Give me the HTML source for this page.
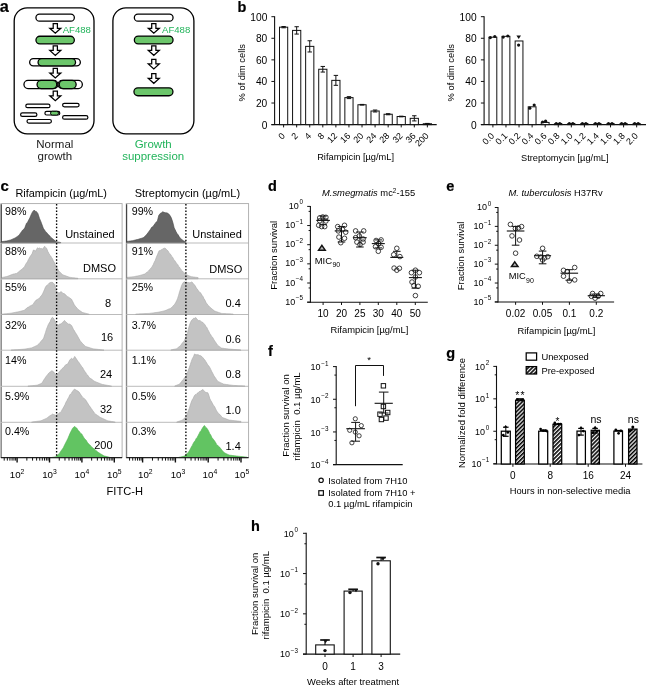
<!DOCTYPE html>
<html><head><meta charset="utf-8"><title>Figure</title>
<style>
html,body{margin:0;padding:0;background:#fff;width:646px;height:685px;overflow:hidden}
svg{display:block;will-change:transform}
text{font-family:"Liberation Sans",sans-serif}
</style></head><body>
<svg width="646" height="685" viewBox="0 0 646 685" font-family="Liberation Sans, sans-serif">
<rect x="0" y="0" width="646" height="685" fill="#fff"/>
<text x="-0.3" y="11.9" font-size="16.3" font-weight="bold" stroke="#000" stroke-width="0.2">a</text>
<rect x="14.2" y="7.8" width="79.8" height="126" rx="13" fill="none" stroke="#000" stroke-width="1.3"/>
<rect x="112.9" y="7.8" width="81" height="126" rx="13" fill="none" stroke="#000" stroke-width="1.3"/>
<rect x="35.95" y="14.15" width="38.4" height="7" rx="3.5" fill="#fff" stroke="#000" stroke-width="1.3"/>
<path d="M53.2,23.62 L57.4,23.62 L57.4,28.26 L60.8,28.26 L55.3,33.2 L49.8,28.26 L53.2,28.26 Z" fill="#fff" stroke="#000" stroke-width="1.25" stroke-linejoin="miter"/>
<text x="62.7" y="32.8" font-size="9.6" fill="#22b45b">AF488</text>
<rect x="35.95" y="36.25" width="38.4" height="7.7" rx="3.85" fill="#6cc66b" stroke="#000" stroke-width="1.3"/>
<path d="M53.2,45.83 L57.4,45.83 L57.4,50.46 L60.8,50.46 L55.3,55.4 L49.8,50.46 L53.2,50.46 Z" fill="#fff" stroke="#000" stroke-width="1.25" stroke-linejoin="miter"/>
<rect x="29.65" y="58.65" width="50.7" height="7.3" rx="3.65" fill="#fff" stroke="#000" stroke-width="1.3"/>
<rect x="38.05" y="58.65" width="37.5" height="7.3" rx="3.65" fill="#6cc66b" stroke="#000" stroke-width="1.3"/>
<path d="M53.2,68.42 L57.4,68.42 L57.4,73.06 L60.8,73.06 L55.3,78 L49.8,73.06 L53.2,73.06 Z" fill="#fff" stroke="#000" stroke-width="1.25" stroke-linejoin="miter"/>
<rect x="23.95" y="80.45" width="34" height="8.1" rx="4.05" fill="#fff" stroke="#000" stroke-width="1.3"/>
<rect x="37.05" y="80.45" width="19.7" height="8.1" rx="4.05" fill="#6cc66b" stroke="#000" stroke-width="1.3"/>
<rect x="58.05" y="80.45" width="24.3" height="8.1" rx="4.05" fill="#fff" stroke="#000" stroke-width="1.3"/>
<rect x="59.25" y="80.45" width="16.9" height="8.1" rx="4.05" fill="#6cc66b" stroke="#000" stroke-width="1.3"/>
<path d="M53.2,91.22 L57.4,91.22 L57.4,95.77 L60.8,95.77 L55.3,100.6 L49.8,95.77 L53.2,95.77 Z" fill="#fff" stroke="#000" stroke-width="1.25" stroke-linejoin="miter"/>
<rect x="25.8" y="104.1" width="24.2" height="3.6" rx="1.8" fill="#fff" stroke="#000" stroke-width="1.2"/>
<rect x="62.6" y="103.3" width="16.5" height="3.6" rx="1.8" fill="#fff" stroke="#000" stroke-width="1.2"/>
<rect x="20.6" y="112.9" width="16.3" height="3.5" rx="1.75" fill="#fff" stroke="#000" stroke-width="1.2"/>
<rect x="44.9" y="111.4" width="14.9" height="3.6" rx="1.8" fill="#fff" stroke="#000" stroke-width="1.2"/>
<rect x="50.5" y="111.3" width="8" height="3.8" rx="1.9" fill="#6cc66b" stroke="#000" stroke-width="1.0"/>
<rect x="62.6" y="115.6" width="25.3" height="3.6" rx="1.8" fill="#fff" stroke="#000" stroke-width="1.2"/>
<rect x="27" y="119.5" width="24.4" height="3.6" rx="1.8" fill="#fff" stroke="#000" stroke-width="1.2"/>
<text x="54.8" y="148.1" font-size="11.5" text-anchor="middle" fill="#1a1a1a">Normal</text>
<text x="54.8" y="160" font-size="11.5" text-anchor="middle" fill="#1a1a1a">growth</text>
<rect x="134.35" y="14.15" width="38.7" height="7" rx="3.5" fill="#fff" stroke="#000" stroke-width="1.3"/>
<path d="M151.7,23.62 L155.9,23.62 L155.9,28.26 L159.3,28.26 L153.8,33.2 L148.3,28.26 L151.7,28.26 Z" fill="#fff" stroke="#000" stroke-width="1.25" stroke-linejoin="miter"/>
<text x="162" y="32.8" font-size="9.6" fill="#22b45b">AF488</text>
<rect x="134.35" y="36.05" width="38.7" height="7.9" rx="3.95" fill="#6cc66b" stroke="#000" stroke-width="1.3"/>
<path d="M151.7,45.83 L155.9,45.83 L155.9,50.42 L159.3,50.42 L153.8,55.3 L148.3,50.42 L151.7,50.42 Z" fill="#fff" stroke="#000" stroke-width="1.25" stroke-linejoin="miter"/>
<path d="M151.7,59.33 L155.9,59.33 L155.9,63.96 L159.3,63.96 L153.8,68.9 L148.3,63.96 L151.7,63.96 Z" fill="#fff" stroke="#000" stroke-width="1.25" stroke-linejoin="miter"/>
<path d="M151.7,73.72 L155.9,73.72 L155.9,78.36 L159.3,78.36 L153.8,83.3 L148.3,78.36 L151.7,78.36 Z" fill="#fff" stroke="#000" stroke-width="1.25" stroke-linejoin="miter"/>
<rect x="133.95" y="87.85" width="39" height="7.9" rx="3.95" fill="#6cc66b" stroke="#000" stroke-width="1.3"/>
<text x="153.2" y="148.1" font-size="11.5" text-anchor="middle" fill="#22b45b">Growth</text>
<text x="153.2" y="160" font-size="11.5" text-anchor="middle" fill="#22b45b">suppression</text>
<text x="237.6" y="11.9" font-size="14.5" font-weight="bold" stroke="#000" stroke-width="0.2">b</text>
<line x1="274.6" y1="16.2" x2="274.6" y2="125.1" stroke="#111" stroke-width="1.1"/>
<line x1="271.4" y1="124.6" x2="274.6" y2="124.6" stroke="#111" stroke-width="1.0"/>
<text x="267.3" y="128.5" font-size="10.2" text-anchor="end">0</text>
<line x1="271.4" y1="103.02" x2="274.6" y2="103.02" stroke="#111" stroke-width="1.0"/>
<text x="267.3" y="106.92" font-size="10.2" text-anchor="end">20</text>
<line x1="271.4" y1="81.44" x2="274.6" y2="81.44" stroke="#111" stroke-width="1.0"/>
<text x="267.3" y="85.34" font-size="10.2" text-anchor="end">40</text>
<line x1="271.4" y1="59.86" x2="274.6" y2="59.86" stroke="#111" stroke-width="1.0"/>
<text x="267.3" y="63.76" font-size="10.2" text-anchor="end">60</text>
<line x1="271.4" y1="38.28" x2="274.6" y2="38.28" stroke="#111" stroke-width="1.0"/>
<text x="267.3" y="42.18" font-size="10.2" text-anchor="end">80</text>
<line x1="271.4" y1="16.7" x2="274.6" y2="16.7" stroke="#111" stroke-width="1.0"/>
<text x="267.3" y="20.6" font-size="10.2" text-anchor="end">100</text>
<line x1="271.4" y1="124.6" x2="436.7" y2="124.6" stroke="#111" stroke-width="1.1"/>
<rect x="279.5" y="27.17" width="8.2" height="97.43" rx="0" fill="#fff" stroke="#111" stroke-width="1.0"/>
<line x1="283.6" y1="124.6" x2="283.6" y2="127.4" stroke="#111" stroke-width="1.0"/>
<line x1="283.6" y1="26.52" x2="283.6" y2="27.81" stroke="#111" stroke-width="1.0"/>
<line x1="281.4" y1="26.52" x2="285.8" y2="26.52" stroke="#111" stroke-width="1.0"/>
<line x1="281.4" y1="27.81" x2="285.8" y2="27.81" stroke="#111" stroke-width="1.0"/>
<text x="285.6" y="136.4" font-size="9.0" text-anchor="end" transform="rotate(-45 285.6 136.4)">0</text>
<rect x="292.57" y="30.4" width="8.2" height="94.2" rx="0" fill="#fff" stroke="#111" stroke-width="1.0"/>
<line x1="296.67" y1="124.6" x2="296.67" y2="127.4" stroke="#111" stroke-width="1.0"/>
<line x1="296.67" y1="26.73" x2="296.67" y2="34.07" stroke="#111" stroke-width="1.0"/>
<line x1="294.47" y1="26.73" x2="298.87" y2="26.73" stroke="#111" stroke-width="1.0"/>
<line x1="294.47" y1="34.07" x2="298.87" y2="34.07" stroke="#111" stroke-width="1.0"/>
<text x="298.67" y="136.4" font-size="9.0" text-anchor="end" transform="rotate(-45 298.67 136.4)">2</text>
<rect x="305.64" y="46.37" width="8.2" height="78.23" rx="0" fill="#fff" stroke="#111" stroke-width="1.0"/>
<line x1="309.74" y1="124.6" x2="309.74" y2="127.4" stroke="#111" stroke-width="1.0"/>
<line x1="309.74" y1="40.76" x2="309.74" y2="51.98" stroke="#111" stroke-width="1.0"/>
<line x1="307.54" y1="40.76" x2="311.94" y2="40.76" stroke="#111" stroke-width="1.0"/>
<line x1="307.54" y1="51.98" x2="311.94" y2="51.98" stroke="#111" stroke-width="1.0"/>
<text x="311.74" y="136.4" font-size="9.0" text-anchor="end" transform="rotate(-45 311.74 136.4)">4</text>
<rect x="318.71" y="69.25" width="8.2" height="55.35" rx="0" fill="#fff" stroke="#111" stroke-width="1.0"/>
<line x1="322.81" y1="124.6" x2="322.81" y2="127.4" stroke="#111" stroke-width="1.0"/>
<line x1="322.81" y1="66.44" x2="322.81" y2="72.05" stroke="#111" stroke-width="1.0"/>
<line x1="320.61" y1="66.44" x2="325.01" y2="66.44" stroke="#111" stroke-width="1.0"/>
<line x1="320.61" y1="72.05" x2="325.01" y2="72.05" stroke="#111" stroke-width="1.0"/>
<text x="324.81" y="136.4" font-size="9.0" text-anchor="end" transform="rotate(-45 324.81 136.4)">8</text>
<rect x="331.78" y="80.36" width="8.2" height="44.24" rx="0" fill="#fff" stroke="#111" stroke-width="1.0"/>
<line x1="335.88" y1="124.6" x2="335.88" y2="127.4" stroke="#111" stroke-width="1.0"/>
<line x1="335.88" y1="75.4" x2="335.88" y2="85.32" stroke="#111" stroke-width="1.0"/>
<line x1="333.68" y1="75.4" x2="338.08" y2="75.4" stroke="#111" stroke-width="1.0"/>
<line x1="333.68" y1="85.32" x2="338.08" y2="85.32" stroke="#111" stroke-width="1.0"/>
<text x="337.88" y="136.4" font-size="9.0" text-anchor="end" transform="rotate(-45 337.88 136.4)">12</text>
<rect x="344.85" y="97.62" width="8.2" height="26.97" rx="0" fill="#fff" stroke="#111" stroke-width="1.0"/>
<line x1="348.95" y1="124.6" x2="348.95" y2="127.4" stroke="#111" stroke-width="1.0"/>
<line x1="348.95" y1="96.65" x2="348.95" y2="98.6" stroke="#111" stroke-width="1.0"/>
<line x1="346.75" y1="96.65" x2="351.15" y2="96.65" stroke="#111" stroke-width="1.0"/>
<line x1="346.75" y1="98.6" x2="351.15" y2="98.6" stroke="#111" stroke-width="1.0"/>
<text x="350.95" y="136.4" font-size="9.0" text-anchor="end" transform="rotate(-45 350.95 136.4)">16</text>
<rect x="357.92" y="104.75" width="8.2" height="19.85" rx="0" fill="#fff" stroke="#111" stroke-width="1.0"/>
<line x1="362.02" y1="124.6" x2="362.02" y2="127.4" stroke="#111" stroke-width="1.0"/>
<line x1="362.02" y1="104.42" x2="362.02" y2="105.07" stroke="#111" stroke-width="1.0"/>
<line x1="359.82" y1="104.42" x2="364.22" y2="104.42" stroke="#111" stroke-width="1.0"/>
<line x1="359.82" y1="105.07" x2="364.22" y2="105.07" stroke="#111" stroke-width="1.0"/>
<text x="364.02" y="136.4" font-size="9.0" text-anchor="end" transform="rotate(-45 364.02 136.4)">20</text>
<rect x="370.99" y="111" width="8.2" height="13.6" rx="0" fill="#fff" stroke="#111" stroke-width="1.0"/>
<line x1="375.09" y1="124.6" x2="375.09" y2="127.4" stroke="#111" stroke-width="1.0"/>
<line x1="375.09" y1="110.03" x2="375.09" y2="111.98" stroke="#111" stroke-width="1.0"/>
<line x1="372.89" y1="110.03" x2="377.29" y2="110.03" stroke="#111" stroke-width="1.0"/>
<line x1="372.89" y1="111.98" x2="377.29" y2="111.98" stroke="#111" stroke-width="1.0"/>
<text x="377.09" y="136.4" font-size="9.0" text-anchor="end" transform="rotate(-45 377.09 136.4)">24</text>
<rect x="384.06" y="114.24" width="8.2" height="10.36" rx="0" fill="#fff" stroke="#111" stroke-width="1.0"/>
<line x1="388.16" y1="124.6" x2="388.16" y2="127.4" stroke="#111" stroke-width="1.0"/>
<line x1="388.16" y1="113.7" x2="388.16" y2="114.78" stroke="#111" stroke-width="1.0"/>
<line x1="385.96" y1="113.7" x2="390.36" y2="113.7" stroke="#111" stroke-width="1.0"/>
<line x1="385.96" y1="114.78" x2="390.36" y2="114.78" stroke="#111" stroke-width="1.0"/>
<text x="390.16" y="136.4" font-size="9.0" text-anchor="end" transform="rotate(-45 390.16 136.4)">28</text>
<rect x="397.13" y="116.51" width="8.2" height="8.09" rx="0" fill="#fff" stroke="#111" stroke-width="1.0"/>
<line x1="401.23" y1="124.6" x2="401.23" y2="127.4" stroke="#111" stroke-width="1.0"/>
<line x1="401.23" y1="116.18" x2="401.23" y2="116.83" stroke="#111" stroke-width="1.0"/>
<line x1="399.03" y1="116.18" x2="403.43" y2="116.18" stroke="#111" stroke-width="1.0"/>
<line x1="399.03" y1="116.83" x2="403.43" y2="116.83" stroke="#111" stroke-width="1.0"/>
<text x="403.23" y="136.4" font-size="9.0" text-anchor="end" transform="rotate(-45 403.23 136.4)">32</text>
<rect x="410.2" y="118.34" width="8.2" height="6.26" rx="0" fill="#fff" stroke="#111" stroke-width="1.0"/>
<line x1="414.3" y1="124.6" x2="414.3" y2="127.4" stroke="#111" stroke-width="1.0"/>
<line x1="414.3" y1="115.75" x2="414.3" y2="120.93" stroke="#111" stroke-width="1.0"/>
<line x1="412.1" y1="115.75" x2="416.5" y2="115.75" stroke="#111" stroke-width="1.0"/>
<line x1="412.1" y1="120.93" x2="416.5" y2="120.93" stroke="#111" stroke-width="1.0"/>
<text x="416.3" y="136.4" font-size="9.0" text-anchor="end" transform="rotate(-45 416.3 136.4)">36</text>
<rect x="423.27" y="123.74" width="8.2" height="0.86" rx="0" fill="#fff" stroke="#111" stroke-width="1.0"/>
<line x1="427.37" y1="124.6" x2="427.37" y2="127.4" stroke="#111" stroke-width="1.0"/>
<line x1="427.37" y1="123.41" x2="427.37" y2="124.06" stroke="#111" stroke-width="1.0"/>
<line x1="425.17" y1="123.41" x2="429.57" y2="123.41" stroke="#111" stroke-width="1.0"/>
<line x1="425.17" y1="124.06" x2="429.57" y2="124.06" stroke="#111" stroke-width="1.0"/>
<text x="429.37" y="136.4" font-size="9.0" text-anchor="end" transform="rotate(-45 429.37 136.4)">200</text>
<text x="355.6" y="159.8" font-size="9.25" text-anchor="middle">Rifampicin [µg/mL]</text>
<text x="244.6" y="72.7" font-size="9.3" text-anchor="middle" transform="rotate(-90 244.6 72.7)">% of dim cells</text>
<line x1="484.1" y1="16.2" x2="484.1" y2="125.1" stroke="#111" stroke-width="1.1"/>
<line x1="480.9" y1="124.6" x2="484.1" y2="124.6" stroke="#111" stroke-width="1.0"/>
<text x="476.6" y="128.5" font-size="10.2" text-anchor="end">0</text>
<line x1="480.9" y1="103.02" x2="484.1" y2="103.02" stroke="#111" stroke-width="1.0"/>
<text x="476.6" y="106.92" font-size="10.2" text-anchor="end">20</text>
<line x1="480.9" y1="81.44" x2="484.1" y2="81.44" stroke="#111" stroke-width="1.0"/>
<text x="476.6" y="85.34" font-size="10.2" text-anchor="end">40</text>
<line x1="480.9" y1="59.86" x2="484.1" y2="59.86" stroke="#111" stroke-width="1.0"/>
<text x="476.6" y="63.76" font-size="10.2" text-anchor="end">60</text>
<line x1="480.9" y1="38.28" x2="484.1" y2="38.28" stroke="#111" stroke-width="1.0"/>
<text x="476.6" y="42.18" font-size="10.2" text-anchor="end">80</text>
<line x1="480.9" y1="16.7" x2="484.1" y2="16.7" stroke="#111" stroke-width="1.0"/>
<text x="476.6" y="20.6" font-size="10.2" text-anchor="end">100</text>
<line x1="480.9" y1="124.6" x2="646" y2="124.6" stroke="#111" stroke-width="1.1"/>
<rect x="489" y="37.2" width="7.8" height="87.4" rx="0" fill="#fff" stroke="#111" stroke-width="1.0"/>
<line x1="492.9" y1="124.6" x2="492.9" y2="127.4" stroke="#111" stroke-width="1.0"/>
<text x="494.9" y="136.4" font-size="9.0" text-anchor="end" transform="rotate(-45 494.9 136.4)">0.0</text>
<rect x="502.07" y="36.34" width="7.8" height="88.26" rx="0" fill="#fff" stroke="#111" stroke-width="1.0"/>
<line x1="505.97" y1="124.6" x2="505.97" y2="127.4" stroke="#111" stroke-width="1.0"/>
<text x="507.97" y="136.4" font-size="9.0" text-anchor="end" transform="rotate(-45 507.97 136.4)">0.1</text>
<rect x="515.14" y="40.98" width="7.8" height="83.62" rx="0" fill="#fff" stroke="#111" stroke-width="1.0"/>
<line x1="519.04" y1="124.6" x2="519.04" y2="127.4" stroke="#111" stroke-width="1.0"/>
<text x="521.04" y="136.4" font-size="9.0" text-anchor="end" transform="rotate(-45 521.04 136.4)">0.2</text>
<rect x="528.21" y="106.8" width="7.8" height="17.8" rx="0" fill="#fff" stroke="#111" stroke-width="1.0"/>
<line x1="532.11" y1="124.6" x2="532.11" y2="127.4" stroke="#111" stroke-width="1.0"/>
<text x="534.11" y="136.4" font-size="9.0" text-anchor="end" transform="rotate(-45 534.11 136.4)">0.4</text>
<rect x="541.28" y="122.44" width="7.8" height="2.16" rx="0" fill="#fff" stroke="#111" stroke-width="1.0"/>
<line x1="545.18" y1="124.6" x2="545.18" y2="127.4" stroke="#111" stroke-width="1.0"/>
<text x="547.18" y="136.4" font-size="9.0" text-anchor="end" transform="rotate(-45 547.18 136.4)">0.6</text>
<rect x="554.35" y="124.17" width="7.8" height="0.43" rx="0" fill="#fff" stroke="#111" stroke-width="1.0"/>
<line x1="558.25" y1="124.6" x2="558.25" y2="127.4" stroke="#111" stroke-width="1.0"/>
<text x="560.25" y="136.4" font-size="9.0" text-anchor="end" transform="rotate(-45 560.25 136.4)">0.8</text>
<rect x="567.42" y="124.17" width="7.8" height="0.43" rx="0" fill="#fff" stroke="#111" stroke-width="1.0"/>
<line x1="571.32" y1="124.6" x2="571.32" y2="127.4" stroke="#111" stroke-width="1.0"/>
<text x="573.32" y="136.4" font-size="9.0" text-anchor="end" transform="rotate(-45 573.32 136.4)">1.0</text>
<rect x="580.49" y="124.17" width="7.8" height="0.43" rx="0" fill="#fff" stroke="#111" stroke-width="1.0"/>
<line x1="584.39" y1="124.6" x2="584.39" y2="127.4" stroke="#111" stroke-width="1.0"/>
<text x="586.39" y="136.4" font-size="9.0" text-anchor="end" transform="rotate(-45 586.39 136.4)">1.2</text>
<rect x="593.56" y="124.17" width="7.8" height="0.43" rx="0" fill="#fff" stroke="#111" stroke-width="1.0"/>
<line x1="597.46" y1="124.6" x2="597.46" y2="127.4" stroke="#111" stroke-width="1.0"/>
<text x="599.46" y="136.4" font-size="9.0" text-anchor="end" transform="rotate(-45 599.46 136.4)">1.4</text>
<rect x="606.63" y="124.17" width="7.8" height="0.43" rx="0" fill="#fff" stroke="#111" stroke-width="1.0"/>
<line x1="610.53" y1="124.6" x2="610.53" y2="127.4" stroke="#111" stroke-width="1.0"/>
<text x="612.53" y="136.4" font-size="9.0" text-anchor="end" transform="rotate(-45 612.53 136.4)">1.6</text>
<rect x="619.7" y="124.17" width="7.8" height="0.43" rx="0" fill="#fff" stroke="#111" stroke-width="1.0"/>
<line x1="623.6" y1="124.6" x2="623.6" y2="127.4" stroke="#111" stroke-width="1.0"/>
<text x="625.6" y="136.4" font-size="9.0" text-anchor="end" transform="rotate(-45 625.6 136.4)">1.8</text>
<rect x="632.77" y="124.17" width="7.8" height="0.43" rx="0" fill="#fff" stroke="#111" stroke-width="1.0"/>
<line x1="636.67" y1="124.6" x2="636.67" y2="127.4" stroke="#111" stroke-width="1.0"/>
<text x="638.67" y="136.4" font-size="9.0" text-anchor="end" transform="rotate(-45 638.67 136.4)">2.0</text>
<text x="564.8" y="161" font-size="9.25" text-anchor="middle">Streptomycin [µg/mL]</text>
<text x="454.4" y="72.7" font-size="9.3" text-anchor="middle" transform="rotate(-90 454.4 72.7)">% of dim cells</text>
<circle cx="490.3" cy="37.6" r="1.6" fill="#111"/>
<circle cx="494.8" cy="36.5" r="1.6" fill="#111"/>
<circle cx="503.2" cy="37.1" r="1.6" fill="#111"/>
<circle cx="507.8" cy="36" r="1.6" fill="#111"/>
<circle cx="518.6" cy="45.1" r="1.6" fill="#111"/>
<circle cx="529.8" cy="108.2" r="1.6" fill="#111"/>
<circle cx="534.2" cy="105" r="1.6" fill="#111"/>
<circle cx="542.6" cy="122" r="1.6" fill="#111"/>
<circle cx="545.6" cy="121.2" r="1.6" fill="#111"/>
<path d="M516.4,35.4 L521,35.4 L518.7,39 Z" fill="#111"/>
<circle cx="556.25" cy="123.6" r="1.5" fill="#111"/>
<circle cx="559.75" cy="123.4" r="1.5" fill="#111"/>
<line x1="554.45" y1="123.6" x2="562.05" y2="123.6" stroke="#111" stroke-width="1.3"/>
<circle cx="569.32" cy="123.6" r="1.5" fill="#111"/>
<circle cx="572.82" cy="123.4" r="1.5" fill="#111"/>
<line x1="567.52" y1="123.6" x2="575.12" y2="123.6" stroke="#111" stroke-width="1.3"/>
<circle cx="582.39" cy="123.6" r="1.5" fill="#111"/>
<circle cx="585.89" cy="123.4" r="1.5" fill="#111"/>
<line x1="580.59" y1="123.6" x2="588.19" y2="123.6" stroke="#111" stroke-width="1.3"/>
<circle cx="595.46" cy="123.6" r="1.5" fill="#111"/>
<circle cx="598.96" cy="123.4" r="1.5" fill="#111"/>
<line x1="593.66" y1="123.6" x2="601.26" y2="123.6" stroke="#111" stroke-width="1.3"/>
<circle cx="608.53" cy="123.6" r="1.5" fill="#111"/>
<circle cx="612.03" cy="123.4" r="1.5" fill="#111"/>
<line x1="606.73" y1="123.6" x2="614.33" y2="123.6" stroke="#111" stroke-width="1.3"/>
<circle cx="621.6" cy="123.6" r="1.5" fill="#111"/>
<circle cx="625.1" cy="123.4" r="1.5" fill="#111"/>
<line x1="619.8" y1="123.6" x2="627.4" y2="123.6" stroke="#111" stroke-width="1.3"/>
<circle cx="634.67" cy="123.6" r="1.5" fill="#111"/>
<circle cx="638.17" cy="123.4" r="1.5" fill="#111"/>
<line x1="632.87" y1="123.6" x2="640.47" y2="123.6" stroke="#111" stroke-width="1.3"/>
<text x="0.6" y="191.2" font-size="15" font-weight="bold" stroke="#000" stroke-width="0.2">c</text>
<text x="61.2" y="196.7" font-size="10.9" text-anchor="middle">Rifampicin (µg/mL)</text>
<text x="187.4" y="196.7" font-size="11" text-anchor="middle">Streptomycin (µg/mL)</text>
<rect x="0.9" y="203.6" width="121.2" height="254" rx="0" fill="#fff" stroke="#aaa" stroke-width="0.9"/>
<path d="M1.1,243 L1.1,241.7 L2,241.58 L2.9,241.47 L3.8,241.35 L4.7,241.23 L5.6,241.12 L6.5,241 L7.58,240.72 L8.65,240.45 L9.73,240.18 L10.8,239.9 L11.9,239.4 L13,238.91 L14.1,238.46 L15.2,237.9 L16.27,237.2 L17.33,236.43 L18.4,235.8 L19.5,234.47 L20.6,232.94 L21.7,231.4 L22.77,229.91 L23.83,229.28 L24.9,227.6 L26.5,223.3 L27.6,222.18 L28.7,220 L29.8,217.94 L30.9,215.2 L32.5,211.9 L34.1,210.1 L35.2,211.19 L36.3,211.4 L37.9,213.5 L39.5,218.4 L40.6,220.89 L41.7,223.8 L43.3,228.2 L44.4,229.85 L45.5,231.39 L46.6,232.5 L47.67,233.83 L48.75,234.94 L49.83,236.03 L50.9,237.4 L52,238.29 L53.1,239.21 L54.2,240.1 L55.25,240.9 L56.3,241.7 L57.4,241.9 L58.5,242.1 L59.6,242.3 L60.7,242.5 L60.7,243 Z" fill="#666" stroke="#444" stroke-width="0.6" stroke-linejoin="round"/>
<line x1="1.3" y1="204.2" x2="1.3" y2="243" stroke="#444" stroke-width="1.2"/>
<line x1="0.9" y1="243" x2="122.1" y2="243" stroke="#aaa" stroke-width="0.8"/>
<text x="5" y="215" font-size="10.7">98%</text>
<text x="114.7" y="237.8" font-size="11" text-anchor="end">Unstained</text>
<path d="M1.4,278.8 L1.4,277.6 L2.33,277.42 L3.27,277.23 L4.2,277.05 L5.13,276.87 L6.07,276.68 L7,276.5 L8.03,276.1 L9.07,275.7 L10.1,275.31 L11.13,274.87 L12.17,274.53 L13.2,274.1 L14.37,273.9 L15.53,273.56 L16.7,273.4 L17.75,272.56 L18.8,271.68 L19.85,270.81 L20.9,270 L22.07,269.37 L23.23,267.85 L24.4,267.2 L25.45,264.63 L26.5,263 L27.43,261.85 L28.37,259.63 L29.3,258.1 L30.65,255.67 L32,253.9 L33.4,250 L34.45,250.36 L35.5,251.1 L36.55,249.25 L37.6,247.7 L38.53,248.5 L39.47,247.98 L40.4,248.6 L41.45,248.54 L42.5,249.1 L43.55,247.79 L44.6,246.3 L45.65,247.4 L46.7,248.4 L47.75,251.3 L48.8,253.2 L49.7,254.97 L50.6,255.84 L51.5,257.4 L52.43,258.71 L53.37,261.04 L54.3,262.3 L55.35,264.91 L56.4,266.5 L57.45,268.24 L58.5,270.6 L59.55,271.74 L60.6,272.8 L61.65,273.78 L62.7,274.8 L63.7,275.14 L64.7,275.52 L65.7,275.87 L66.7,276.23 L67.7,276.59 L68.7,276.94 L69.7,277.3 L70.62,277.41 L71.54,277.52 L72.47,277.63 L73.39,277.74 L74.31,277.86 L75.23,277.97 L76.16,278.08 L77.08,278.19 L78,278.3 L78,278.8 Z" fill="#c3c3c3" stroke="#a8a8a8" stroke-width="0.6" stroke-linejoin="round"/>
<line x1="1.3" y1="243.6" x2="1.3" y2="278.8" stroke="#888" stroke-width="1.2"/>
<line x1="0.9" y1="278.8" x2="122.1" y2="278.8" stroke="#aaa" stroke-width="0.8"/>
<text x="5" y="254.5" font-size="10.7">88%</text>
<text x="116" y="272.2" font-size="11" text-anchor="end">DMSO</text>
<path d="M1.9,314.5 L1.9,314.1 L2.82,314.01 L3.74,313.92 L4.66,313.83 L5.58,313.74 L6.5,313.65 L7.42,313.56 L8.34,313.47 L9.26,313.38 L10.18,313.29 L11.1,313.2 L12.04,313.01 L12.97,312.82 L13.91,312.64 L14.85,312.45 L15.79,312.26 L16.73,312.07 L17.66,311.89 L18.6,311.7 L19.52,311.48 L20.43,311.27 L21.35,311.04 L22.27,310.82 L23.18,310.58 L24.1,310.4 L25.05,309.61 L26,308.82 L26.95,308.04 L27.9,307.2 L28.82,306.91 L29.74,306.15 L30.66,305.68 L31.58,305.26 L32.5,304.8 L33.42,303.95 L34.35,302.29 L35.28,301.08 L36.2,300.1 L37.12,299.47 L38.05,299.21 L38.98,298.21 L39.9,297.9 L40.83,296.11 L41.77,295.29 L42.7,293.6 L43.63,291.52 L44.57,289.35 L45.5,287.1 L46.43,285.67 L47.37,285.02 L48.3,284.4 L49.25,283.01 L50.2,282.5 L51.55,282.35 L52.9,282.5 L53.85,283.9 L54.8,284.4 L55.75,288.64 L56.7,291.8 L58.5,292.7 L59.43,292.78 L60.37,291.96 L61.3,291.8 L62.23,292.47 L63.17,293.44 L64.1,293.6 L65.03,294.26 L65.97,295.16 L66.9,296.1 L67.83,296.94 L68.77,297.13 L69.7,297.9 L71.5,299.2 L72.43,301.04 L73.37,302.83 L74.3,304.8 L75.22,306.11 L76.15,307.11 L77.08,308.13 L78,309.4 L78.94,309.98 L79.88,310.69 L80.82,311.31 L81.76,311.96 L82.7,312.6 L83.63,312.81 L84.56,313.03 L85.49,313.24 L86.41,313.46 L87.34,313.67 L88.27,313.89 L89.2,314.1 L89.2,314.5 Z" fill="#c3c3c3" stroke="#a8a8a8" stroke-width="0.6" stroke-linejoin="round"/>
<line x1="1.3" y1="279.4" x2="1.3" y2="314.5" stroke="#888" stroke-width="1.2"/>
<line x1="0.9" y1="314.5" x2="122.1" y2="314.5" stroke="#aaa" stroke-width="0.8"/>
<text x="5" y="291" font-size="10.7">55%</text>
<text x="111.2" y="306.8" font-size="11" text-anchor="end">8</text>
<path d="M11.1,350.2 L11.1,350.1 L12.03,350.04 L12.96,349.97 L13.89,349.91 L14.81,349.84 L15.74,349.78 L16.67,349.71 L17.6,349.65 L18.53,349.59 L19.46,349.52 L20.39,349.46 L21.31,349.39 L22.24,349.33 L23.17,349.26 L24.1,349.2 L25.04,349.04 L25.98,348.88 L26.91,348.71 L27.85,348.55 L28.79,348.39 L29.73,348.22 L30.66,348.06 L31.6,347.9 L32.53,347.48 L33.47,347.06 L34.4,346.64 L35.33,346.21 L36.27,345.78 L37.2,345.4 L38.12,344.54 L39.05,343.69 L39.98,342.44 L40.9,341.7 L41.83,340.26 L42.77,339.54 L43.7,338 L45.5,332.4 L46.45,329.22 L47.4,326.9 L48.3,324.54 L49.2,323.1 L50.15,321.54 L51.1,319.1 L52.4,317.2 L53.3,318.06 L54.2,319.4 L55.15,321.22 L56.1,324.1 L57.3,324.63 L58.5,325 L59.45,324.21 L60.4,324.1 L61.3,323.47 L62.2,323.1 L63.35,321.56 L64.5,320.4 L65.7,321.95 L66.9,322.8 L67.83,323.72 L68.77,324.17 L69.7,324.1 L71.5,325.4 L72.43,327.13 L73.37,329.34 L74.3,330.6 L75.23,332.34 L76.17,333.72 L77.1,335.2 L78.02,336.97 L78.95,338.58 L79.88,340.35 L80.8,341.7 L81.74,342.54 L82.68,343.72 L83.62,344.61 L84.56,345.48 L85.5,346.4 L86.42,346.7 L87.35,347 L88.28,347.3 L89.2,347.6 L90.12,347.9 L91.05,348.2 L91.98,348.5 L92.9,348.8 L93.83,348.91 L94.75,349.02 L95.68,349.12 L96.6,349.23 L97.53,349.34 L98.45,349.45 L99.38,349.56 L100.3,349.67 L101.22,349.78 L102.15,349.88 L103.08,349.99 L104,350.1 L104,350.2 Z" fill="#c3c3c3" stroke="#a8a8a8" stroke-width="0.6" stroke-linejoin="round"/>
<line x1="1.3" y1="315.1" x2="1.3" y2="350.2" stroke="#888" stroke-width="1.2"/>
<line x1="0.9" y1="350.2" x2="122.1" y2="350.2" stroke="#aaa" stroke-width="0.8"/>
<text x="5" y="328.6" font-size="10.7">32%</text>
<text x="113.2" y="341.2" font-size="11" text-anchor="end">16</text>
<path d="M27.9,386.3 L27.9,386.1 L28.83,386.01 L29.76,385.92 L30.69,385.83 L31.62,385.74 L32.55,385.65 L33.48,385.56 L34.41,385.47 L35.34,385.38 L36.27,385.29 L37.2,385.2 L38.12,384.82 L39.04,384.44 L39.96,384.06 L40.88,383.68 L41.8,383.3 L42.73,381.73 L43.67,380.12 L44.6,378.7 L45.53,377.33 L46.47,375.93 L47.4,374.9 L48.6,373.27 L49.8,372.2 L50.7,371.85 L51.6,370.7 L52.75,371.29 L53.9,372.2 L55,373.67 L56.1,375.5 L57.3,374.22 L58.5,373.1 L59.43,371.45 L60.37,371.07 L61.3,369.4 L62.22,368.46 L63.15,367.68 L64.08,367.09 L65,365.6 L65.93,364.57 L66.87,364.48 L67.8,363.8 L68.75,361.93 L69.7,360.1 L71.5,358.2 L73,359.5 L74.7,356.4 L76.5,359.1 L77.75,361.1 L79,362.5 L79.9,363.98 L80.8,365.17 L81.7,366.6 L82.65,367.6 L83.6,369.44 L84.55,371.12 L85.5,372.2 L86.42,373.9 L87.35,374.77 L88.28,376.11 L89.2,377.4 L90.12,378.21 L91.03,378.71 L91.95,379.37 L92.87,380.14 L93.78,380.82 L94.7,381.4 L95.64,381.81 L96.58,382.2 L97.51,382.5 L98.45,382.9 L99.39,383.27 L100.33,383.65 L101.26,384.02 L102.2,384.4 L103.13,384.57 L104.06,384.74 L104.99,384.91 L105.92,385.08 L106.85,385.25 L107.78,385.42 L108.71,385.59 L109.64,385.76 L110.57,385.93 L111.5,386.1 L111.5,386.3 Z" fill="#c3c3c3" stroke="#a8a8a8" stroke-width="0.6" stroke-linejoin="round"/>
<line x1="1.3" y1="350.8" x2="1.3" y2="386.3" stroke="#888" stroke-width="1.2"/>
<line x1="0.9" y1="386.3" x2="122.1" y2="386.3" stroke="#aaa" stroke-width="0.8"/>
<text x="5" y="363.7" font-size="10.7">14%</text>
<text x="112.2" y="377.8" font-size="11" text-anchor="end">24</text>
<path d="M31.6,422.3 L31.6,422.1 L32.53,421.97 L33.46,421.84 L34.39,421.71 L35.32,421.58 L36.25,421.45 L37.18,421.32 L38.11,421.19 L39.04,421.06 L39.97,420.93 L40.9,420.8 L41.82,420.4 L42.73,420 L43.65,419.6 L44.57,419.2 L45.48,418.78 L46.4,418.4 L47.35,417.7 L48.3,416.93 L49.25,416.23 L50.2,415.6 L51.4,414.9 L52.6,414.1 L53.63,414.59 L54.67,414.84 L55.7,415.2 L56.63,414.9 L57.57,414.24 L58.5,413.7 L59.43,412.87 L60.37,412.38 L61.3,411.5 L62.23,409.51 L63.17,408.04 L64.1,406.3 L65.03,404.58 L65.97,402.15 L66.9,400.7 L67.83,398.76 L68.77,397.34 L69.7,395.1 L70.63,393.95 L71.57,393.1 L72.5,391.4 L74.3,389.2 L75.23,389.4 L76.17,390.22 L77.1,390.5 L78.03,391.37 L78.97,391.87 L79.9,393.3 L81.7,396.1 L82.63,397.17 L83.57,397.95 L84.5,398.9 L85.43,399.62 L86.37,400.97 L87.3,402.6 L88.22,404.03 L89.15,405.83 L90.08,406.5 L91,408.2 L91.92,409.35 L92.85,410.79 L93.78,412.02 L94.7,413.4 L95.63,414.24 L96.57,414.72 L97.5,415.43 L98.43,415.98 L99.37,416.72 L100.3,417.4 L101.22,417.85 L102.15,418.23 L103.08,418.68 L104,419.1 L104.92,419.52 L105.85,419.95 L106.78,420.38 L107.7,420.8 L108.64,420.96 L109.58,421.12 L110.51,421.29 L111.45,421.45 L112.39,421.61 L113.33,421.78 L114.26,421.94 L115.2,422.1 L115.2,422.3 Z" fill="#c3c3c3" stroke="#a8a8a8" stroke-width="0.6" stroke-linejoin="round"/>
<line x1="1.3" y1="386.9" x2="1.3" y2="422.3" stroke="#888" stroke-width="1.2"/>
<line x1="0.9" y1="422.3" x2="122.1" y2="422.3" stroke="#aaa" stroke-width="0.8"/>
<text x="5" y="400.4" font-size="10.7">5.9%</text>
<text x="112.2" y="413.2" font-size="11" text-anchor="end">32</text>
<path d="M50.2,457.6 L50.2,457.7 L51.12,457.55 L52.03,457.4 L52.95,457.25 L53.87,457.1 L54.78,456.95 L55.7,456.8 L56.62,455.95 L57.55,455.1 L58.48,454.24 L59.4,453.4 L60.35,451.99 L61.3,450.51 L62.25,449.2 L63.2,447.9 L64.12,445.99 L65.05,444.12 L65.98,442.23 L66.9,440.4 L68,438.23 L69.1,435.55 L70.2,433 L71.35,430.72 L72.5,428.4 L74.3,426.5 L75.25,426.99 L76.2,427.8 L77.13,428.44 L78.07,430.51 L79,431.1 L79.9,432.28 L80.8,433.5 L81.7,433.9 L82.63,435.47 L83.57,437.19 L84.5,438.6 L85.42,439.46 L86.35,440.39 L87.28,442.35 L88.2,443.2 L89.14,444.61 L90.08,445.11 L91.02,446.39 L91.96,447.29 L92.9,447.9 L93.83,448.81 L94.77,449.25 L95.7,450.39 L96.63,450.94 L97.57,451.86 L98.5,452.5 L99.42,453.11 L100.33,453.67 L101.25,454.22 L102.17,454.77 L103.08,455.33 L104,455.9 L104.93,456.12 L105.87,456.33 L106.8,456.55 L107.73,456.77 L108.67,456.98 L109.6,457.2 L109.6,457.6 Z" fill="#62c462" stroke="#4fb04f" stroke-width="0.6" stroke-linejoin="round"/>
<line x1="1.3" y1="422.9" x2="1.3" y2="457.6" stroke="#888" stroke-width="1.2"/>
<text x="5" y="435.1" font-size="10.7">0.4%</text>
<text x="112.6" y="449.4" font-size="11" text-anchor="end">200</text>
<line x1="56.6" y1="204.1" x2="56.6" y2="457.6" stroke="#000" stroke-width="1.35" stroke-dasharray="1.3 1.95"/>
<line x1="0.9" y1="457.6" x2="122.1" y2="457.6" stroke="#222" stroke-width="1.3"/>
<rect x="126.2" y="203.6" width="122.4" height="254" rx="0" fill="#fff" stroke="#aaa" stroke-width="0.9"/>
<path d="M126.5,243 L126.5,241.5 L127.48,241.37 L128.47,241.23 L129.45,241.1 L130.43,240.97 L131.42,240.83 L132.4,240.7 L133.32,240.48 L134.23,240.27 L135.15,240.05 L136.07,239.84 L136.98,239.6 L137.9,239.4 L138.83,239.11 L139.77,238.8 L140.7,238.48 L141.63,238.24 L142.57,237.88 L143.5,237.6 L144.67,236.41 L145.83,235.4 L147,234.1 L148.17,232.49 L149.33,230.91 L150.5,229.3 L151.67,227.35 L152.83,226.64 L154,225.1 L155.13,223.48 L156.27,221.94 L157.4,220.9 L158.8,215.3 L160.5,213.2 L161.6,212.65 L162.7,211.8 L163.9,212.19 L165.1,212.8 L166.03,212.65 L166.97,212.98 L167.9,213.2 L169.3,214.6 L170.35,216.07 L171.4,218.1 L172.8,222.3 L174.2,227.9 L175.13,229.65 L176.07,231.75 L177,233.4 L178.13,234.82 L179.27,236.78 L180.4,238.3 L181.57,239.24 L182.73,240.17 L183.9,241.1 L184.95,241.45 L186,241.8 L186,243 Z" fill="#666" stroke="#444" stroke-width="0.6" stroke-linejoin="round"/>
<line x1="126.6" y1="204.2" x2="126.6" y2="243" stroke="#444" stroke-width="1.2"/>
<line x1="126.2" y1="243" x2="248.6" y2="243" stroke="#aaa" stroke-width="0.8"/>
<text x="131.7" y="215" font-size="10.7">99%</text>
<text x="241.8" y="237.8" font-size="11" text-anchor="end">Unstained</text>
<path d="M126.9,278.8 L126.9,277.4 L127.89,277.3 L128.87,277.2 L129.86,277.1 L130.84,277 L131.83,276.9 L132.81,276.8 L133.8,276.7 L134.77,276.5 L135.73,276.3 L136.7,276.1 L137.67,275.9 L138.63,275.7 L139.6,275.5 L140.58,275.24 L141.56,274.93 L142.54,274.65 L143.52,274.35 L144.5,274.1 L145.47,273.42 L146.45,272.54 L147.43,271.92 L148.4,271.2 L149.38,269.8 L150.35,268.98 L151.33,267.64 L152.3,266.3 L153.27,264.61 L154.23,262.25 L155.2,260.5 L156.35,257.37 L157.5,254.6 L159.1,250.7 L160.07,250.74 L161.03,249.91 L162,249.4 L163,248.9 L164,248.2 L164.95,248.22 L165.9,248.8 L166.9,250.17 L167.9,250.7 L168.87,252.41 L169.83,253.72 L170.8,254.6 L171.78,256.49 L172.75,257.38 L173.72,259.43 L174.7,260.5 L175.67,262 L176.65,263.41 L177.62,264.38 L178.6,266.3 L179.57,267.25 L180.55,268.89 L181.53,270.23 L182.5,271.2 L183.47,272.17 L184.45,273.02 L185.43,273.86 L186.4,274.7 L187.38,275.08 L188.36,275.5 L189.34,275.9 L190.32,276.3 L191.3,276.7 L192.27,276.83 L193.24,276.96 L194.21,277.09 L195.19,277.21 L196.16,277.34 L197.13,277.47 L198.1,277.6 L198.1,278.8 Z" fill="#c3c3c3" stroke="#a8a8a8" stroke-width="0.6" stroke-linejoin="round"/>
<line x1="126.6" y1="243.6" x2="126.6" y2="278.8" stroke="#888" stroke-width="1.2"/>
<line x1="126.2" y1="278.8" x2="248.6" y2="278.8" stroke="#aaa" stroke-width="0.8"/>
<text x="131.7" y="254.5" font-size="10.7">91%</text>
<text x="242.2" y="272.8" font-size="11" text-anchor="end">DMSO</text>
<path d="M135.7,314.5 L135.7,314 L136.61,313.96 L137.53,313.92 L138.44,313.88 L139.35,313.84 L140.27,313.8 L141.18,313.76 L142.09,313.72 L143.01,313.68 L143.92,313.64 L144.83,313.6 L145.75,313.56 L146.66,313.52 L147.57,313.48 L148.49,313.44 L149.4,313.4 L150.37,313.27 L151.34,313.14 L152.31,313.01 L153.28,312.88 L154.25,312.75 L155.22,312.62 L156.19,312.49 L157.16,312.36 L158.13,312.23 L159.1,312.1 L160.08,311.87 L161.07,311.63 L162.05,311.4 L163.03,311.16 L164.02,310.94 L165,310.7 L165.97,310.26 L166.93,309.9 L167.9,309.38 L168.87,308.97 L169.83,308.69 L170.8,308.2 L171.78,307.34 L172.75,306.39 L173.72,305.14 L174.7,304.3 L175.67,302.61 L176.63,300.79 L177.6,298.4 L178.6,295.27 L179.6,291.6 L180.55,288.85 L181.5,285.8 L182.5,283.63 L183.5,282.2 L184.47,281.86 L185.43,282.12 L186.4,281.9 L187.37,282.45 L188.33,282.46 L189.3,282.8 L190.6,282.54 L191.9,281.9 L193.05,283.28 L194.2,284.8 L195.17,285.58 L196.13,287.84 L197.1,288.7 L198.1,290.49 L199.1,291.45 L200.1,292.6 L201.07,293.4 L202.03,295.33 L203,296.5 L203.97,298.73 L204.93,300.11 L205.9,302.3 L206.88,303.74 L207.85,305.04 L208.83,306 L209.8,307.2 L210.78,307.85 L211.76,308.83 L212.74,309.59 L213.72,310.35 L214.7,311.1 L215.67,311.43 L216.64,311.76 L217.61,312.09 L218.59,312.41 L219.56,312.74 L220.53,313.07 L221.5,313.4 L222.47,313.45 L223.45,313.5 L224.43,313.55 L225.4,313.6 L226.38,313.65 L227.35,313.7 L228.32,313.75 L229.3,313.8 L230.27,313.85 L231.25,313.9 L232.22,313.95 L233.2,314 L233.2,314.5 Z" fill="#c3c3c3" stroke="#a8a8a8" stroke-width="0.6" stroke-linejoin="round"/>
<line x1="126.6" y1="279.4" x2="126.6" y2="314.5" stroke="#888" stroke-width="1.2"/>
<line x1="126.2" y1="314.5" x2="248.6" y2="314.5" stroke="#aaa" stroke-width="0.8"/>
<text x="131.7" y="291" font-size="10.7">25%</text>
<text x="240.8" y="307.4" font-size="11" text-anchor="end">0.4</text>
<path d="M170.8,350.2 L170.8,350 L171.78,349.78 L172.77,349.57 L173.75,349.35 L174.73,349.13 L175.72,348.92 L176.7,348.7 L177.67,347.9 L178.65,347.1 L179.62,346.34 L180.6,345.5 L181.57,344.07 L182.55,342.73 L183.53,341.74 L184.5,340.3 L185.47,337.92 L186.43,335.39 L187.4,333.5 L188.35,329.21 L189.3,325.7 L190.3,322.74 L191.3,320.8 L192.55,319.31 L193.8,318.2 L194.8,318.32 L195.8,317.5 L196.75,318.98 L197.7,319.8 L198.8,320.83 L199.9,320.4 L201,321.4 L202,322.19 L203,322.49 L204,323.7 L204.97,324.8 L205.93,326.53 L206.9,327.6 L207.87,329.82 L208.83,331.39 L209.8,333.5 L210.78,334.76 L211.75,336.71 L212.72,337.43 L213.7,339.3 L214.67,340.94 L215.65,342.26 L216.62,343.77 L217.6,345.2 L218.57,345.97 L219.55,346.63 L220.53,347.38 L221.5,348.1 L222.47,348.23 L223.45,348.35 L224.43,348.48 L225.4,348.6 L226.38,348.73 L227.35,348.85 L228.33,348.98 L229.3,349.1 L230.28,349.18 L231.25,349.25 L232.23,349.33 L233.2,349.4 L234.18,349.48 L235.15,349.55 L236.12,349.62 L237.1,349.7 L238.07,349.77 L239.05,349.85 L240.03,349.93 L241,350 L241,350.2 Z" fill="#c3c3c3" stroke="#a8a8a8" stroke-width="0.6" stroke-linejoin="round"/>
<line x1="126.6" y1="315.1" x2="126.6" y2="350.2" stroke="#888" stroke-width="1.2"/>
<line x1="126.2" y1="350.2" x2="248.6" y2="350.2" stroke="#aaa" stroke-width="0.8"/>
<text x="131.7" y="328.6" font-size="10.7">3.7%</text>
<text x="240.8" y="342.8" font-size="11" text-anchor="end">0.6</text>
<path d="M174.7,386.3 L174.7,386 L175.68,385.62 L176.66,385.24 L177.64,384.86 L178.62,384.48 L179.6,384.1 L180.57,382.86 L181.55,381.61 L182.53,380.34 L183.5,379.2 L184.47,377.84 L185.43,376.54 L186.4,375.3 L187.37,373.14 L188.33,370.06 L189.3,367.5 L190.3,364.62 L191.3,361.42 L192.3,358.7 L193.45,356.73 L194.6,353.9 L195.85,354.69 L197.1,354.8 L198.1,354.62 L199.1,355.55 L200.1,355.4 L201.07,356.12 L202.03,356.66 L203,357.8 L203.97,359.07 L204.93,360.09 L205.9,361.7 L206.88,363.24 L207.85,364.98 L208.83,365.97 L209.8,367.5 L210.78,369.4 L211.75,371.59 L212.72,373.25 L213.7,375.3 L214.67,376.82 L215.65,378.18 L216.62,379.63 L217.6,381.2 L218.58,381.75 L219.57,382.16 L220.55,382.68 L221.53,383.14 L222.52,383.62 L223.5,384.1 L224.47,384.23 L225.44,384.36 L226.41,384.49 L227.38,384.62 L228.35,384.75 L229.32,384.88 L230.29,385.01 L231.26,385.14 L232.23,385.27 L233.2,385.4 L234.1,385.45 L235,385.49 L235.9,385.54 L236.8,385.58 L237.7,385.63 L238.6,385.68 L239.5,385.72 L240.4,385.77 L241.3,385.82 L242.2,385.86 L243.1,385.91 L244,385.95 L244.9,386 L244.9,386.3 Z" fill="#c3c3c3" stroke="#a8a8a8" stroke-width="0.6" stroke-linejoin="round"/>
<line x1="126.6" y1="350.8" x2="126.6" y2="386.3" stroke="#888" stroke-width="1.2"/>
<line x1="126.2" y1="386.3" x2="248.6" y2="386.3" stroke="#aaa" stroke-width="0.8"/>
<text x="131.7" y="363.7" font-size="10.7">1.1%</text>
<text x="240.8" y="378" font-size="11" text-anchor="end">0.8</text>
<path d="M176.7,422.3 L176.7,422 L177.67,421.68 L178.63,421.37 L179.6,421.05 L180.57,420.73 L181.53,420.42 L182.5,420.1 L183.47,419.13 L184.45,418.1 L185.43,417.19 L186.4,416.2 L187.37,413.48 L188.33,410.74 L189.3,408.4 L190.3,405 L191.3,402.01 L192.3,399.6 L193.27,398.22 L194.23,395.93 L195.2,394.7 L196.17,394.39 L197.13,393.33 L198.1,392.8 L199.07,391.64 L200.03,391.43 L201,390.8 L202,390.07 L203,389.5 L203.95,390.69 L204.9,391.8 L205.9,392.56 L206.9,392.62 L207.9,392.8 L208.85,395.37 L209.8,398.6 L210.78,400.53 L211.75,402.07 L212.72,404.11 L213.7,405.5 L214.67,406.7 L215.65,408.89 L216.62,410.9 L217.6,412.3 L218.58,413.45 L219.56,414.29 L220.54,415.33 L221.52,416.57 L222.5,417.5 L223.47,417.92 L224.44,418.29 L225.41,418.59 L226.39,418.99 L227.36,419.36 L228.33,419.73 L229.3,420.1 L230.28,420.21 L231.25,420.32 L232.23,420.43 L233.2,420.53 L234.18,420.64 L235.15,420.75 L236.12,420.86 L237.1,420.97 L238.07,421.07 L239.05,421.18 L240.03,421.29 L241,421.4 L241,422.3 Z" fill="#c3c3c3" stroke="#a8a8a8" stroke-width="0.6" stroke-linejoin="round"/>
<line x1="126.6" y1="386.9" x2="126.6" y2="422.3" stroke="#888" stroke-width="1.2"/>
<line x1="126.2" y1="422.3" x2="248.6" y2="422.3" stroke="#aaa" stroke-width="0.8"/>
<text x="131.7" y="400.4" font-size="10.7">0.5%</text>
<text x="240.8" y="413.6" font-size="11" text-anchor="end">1.0</text>
<path d="M178.6,457.6 L178.6,457.4 L179.58,457.18 L180.57,456.97 L181.55,456.75 L182.53,456.53 L183.52,456.32 L184.5,456.1 L185.47,455.12 L186.45,454.16 L187.43,453.17 L188.4,452.2 L189.38,450.68 L190.35,448.9 L191.33,446.98 L192.3,445.4 L193.28,443.33 L194.25,441.75 L195.22,440.62 L196.2,438.5 L197.17,437.45 L198.13,435.59 L199.1,433.7 L200.07,431.7 L201.03,430.67 L202,428.8 L203.2,426.88 L204.4,425.5 L205.65,427.18 L206.9,428.2 L207.87,429.79 L208.83,431.54 L209.8,433.7 L210.77,434.95 L211.73,437.35 L212.7,438.5 L213.67,439.69 L214.65,441.04 L215.62,442.54 L216.6,444.4 L217.57,445.21 L218.55,446.31 L219.53,447.12 L220.5,448.3 L221.47,449.49 L222.45,450.73 L223.43,451.76 L224.4,452.8 L225.38,453.28 L226.36,453.69 L227.34,454.19 L228.32,454.64 L229.3,455.1 L230.28,455.23 L231.25,455.35 L232.22,455.48 L233.2,455.6 L234.18,455.73 L235.15,455.85 L236.12,455.98 L237.1,456.1 L238.08,456.2 L239.06,456.3 L240.04,456.4 L241.02,456.5 L242,456.6 L242.98,456.7 L243.96,456.8 L244.94,456.9 L245.92,457 L246.9,457.1 L246.9,457.6 Z" fill="#62c462" stroke="#4fb04f" stroke-width="0.6" stroke-linejoin="round"/>
<line x1="126.6" y1="422.9" x2="126.6" y2="457.6" stroke="#888" stroke-width="1.2"/>
<text x="131.7" y="435.1" font-size="10.7">0.3%</text>
<text x="240.8" y="450.4" font-size="11" text-anchor="end">1.4</text>
<line x1="185.9" y1="204.1" x2="185.9" y2="457.6" stroke="#000" stroke-width="1.35" stroke-dasharray="1.3 1.95"/>
<line x1="126.2" y1="457.6" x2="248.6" y2="457.6" stroke="#222" stroke-width="1.3"/>
<line x1="4.21" y1="457.6" x2="4.21" y2="460.6" stroke="#111" stroke-width="1.0"/>
<line x1="7.35" y1="457.6" x2="7.35" y2="460.6" stroke="#111" stroke-width="1.0"/>
<line x1="9.91" y1="457.6" x2="9.91" y2="460.6" stroke="#111" stroke-width="1.0"/>
<line x1="12.08" y1="457.6" x2="12.08" y2="460.6" stroke="#111" stroke-width="1.0"/>
<line x1="13.96" y1="457.6" x2="13.96" y2="460.6" stroke="#111" stroke-width="1.0"/>
<line x1="15.62" y1="457.6" x2="15.62" y2="460.6" stroke="#111" stroke-width="1.0"/>
<line x1="17.1" y1="457.6" x2="17.1" y2="462.5" stroke="#111" stroke-width="1.4"/>
<line x1="26.85" y1="457.6" x2="26.85" y2="460.6" stroke="#111" stroke-width="1.0"/>
<line x1="32.56" y1="457.6" x2="32.56" y2="460.6" stroke="#111" stroke-width="1.0"/>
<line x1="36.61" y1="457.6" x2="36.61" y2="460.6" stroke="#111" stroke-width="1.0"/>
<line x1="39.75" y1="457.6" x2="39.75" y2="460.6" stroke="#111" stroke-width="1.0"/>
<line x1="42.31" y1="457.6" x2="42.31" y2="460.6" stroke="#111" stroke-width="1.0"/>
<line x1="44.48" y1="457.6" x2="44.48" y2="460.6" stroke="#111" stroke-width="1.0"/>
<line x1="46.36" y1="457.6" x2="46.36" y2="460.6" stroke="#111" stroke-width="1.0"/>
<line x1="48.02" y1="457.6" x2="48.02" y2="460.6" stroke="#111" stroke-width="1.0"/>
<line x1="49.5" y1="457.6" x2="49.5" y2="462.5" stroke="#111" stroke-width="1.4"/>
<line x1="59.25" y1="457.6" x2="59.25" y2="460.6" stroke="#111" stroke-width="1.0"/>
<line x1="64.96" y1="457.6" x2="64.96" y2="460.6" stroke="#111" stroke-width="1.0"/>
<line x1="69.01" y1="457.6" x2="69.01" y2="460.6" stroke="#111" stroke-width="1.0"/>
<line x1="72.15" y1="457.6" x2="72.15" y2="460.6" stroke="#111" stroke-width="1.0"/>
<line x1="74.71" y1="457.6" x2="74.71" y2="460.6" stroke="#111" stroke-width="1.0"/>
<line x1="76.88" y1="457.6" x2="76.88" y2="460.6" stroke="#111" stroke-width="1.0"/>
<line x1="78.76" y1="457.6" x2="78.76" y2="460.6" stroke="#111" stroke-width="1.0"/>
<line x1="80.42" y1="457.6" x2="80.42" y2="460.6" stroke="#111" stroke-width="1.0"/>
<line x1="81.9" y1="457.6" x2="81.9" y2="462.5" stroke="#111" stroke-width="1.4"/>
<line x1="91.65" y1="457.6" x2="91.65" y2="460.6" stroke="#111" stroke-width="1.0"/>
<line x1="97.36" y1="457.6" x2="97.36" y2="460.6" stroke="#111" stroke-width="1.0"/>
<line x1="101.41" y1="457.6" x2="101.41" y2="460.6" stroke="#111" stroke-width="1.0"/>
<line x1="104.55" y1="457.6" x2="104.55" y2="460.6" stroke="#111" stroke-width="1.0"/>
<line x1="107.11" y1="457.6" x2="107.11" y2="460.6" stroke="#111" stroke-width="1.0"/>
<line x1="109.28" y1="457.6" x2="109.28" y2="460.6" stroke="#111" stroke-width="1.0"/>
<line x1="111.16" y1="457.6" x2="111.16" y2="460.6" stroke="#111" stroke-width="1.0"/>
<line x1="112.82" y1="457.6" x2="112.82" y2="460.6" stroke="#111" stroke-width="1.0"/>
<line x1="114.3" y1="457.6" x2="114.3" y2="462.5" stroke="#111" stroke-width="1.4"/>
<line x1="129.55" y1="457.6" x2="129.55" y2="460.6" stroke="#111" stroke-width="1.0"/>
<line x1="132.73" y1="457.6" x2="132.73" y2="460.6" stroke="#111" stroke-width="1.0"/>
<line x1="135.32" y1="457.6" x2="135.32" y2="460.6" stroke="#111" stroke-width="1.0"/>
<line x1="137.52" y1="457.6" x2="137.52" y2="460.6" stroke="#111" stroke-width="1.0"/>
<line x1="139.42" y1="457.6" x2="139.42" y2="460.6" stroke="#111" stroke-width="1.0"/>
<line x1="141.1" y1="457.6" x2="141.1" y2="460.6" stroke="#111" stroke-width="1.0"/>
<line x1="142.6" y1="457.6" x2="142.6" y2="462.5" stroke="#111" stroke-width="1.4"/>
<line x1="152.47" y1="457.6" x2="152.47" y2="460.6" stroke="#111" stroke-width="1.0"/>
<line x1="158.25" y1="457.6" x2="158.25" y2="460.6" stroke="#111" stroke-width="1.0"/>
<line x1="162.35" y1="457.6" x2="162.35" y2="460.6" stroke="#111" stroke-width="1.0"/>
<line x1="165.53" y1="457.6" x2="165.53" y2="460.6" stroke="#111" stroke-width="1.0"/>
<line x1="168.12" y1="457.6" x2="168.12" y2="460.6" stroke="#111" stroke-width="1.0"/>
<line x1="170.32" y1="457.6" x2="170.32" y2="460.6" stroke="#111" stroke-width="1.0"/>
<line x1="172.22" y1="457.6" x2="172.22" y2="460.6" stroke="#111" stroke-width="1.0"/>
<line x1="173.9" y1="457.6" x2="173.9" y2="460.6" stroke="#111" stroke-width="1.0"/>
<line x1="175.4" y1="457.6" x2="175.4" y2="462.5" stroke="#111" stroke-width="1.4"/>
<line x1="185.27" y1="457.6" x2="185.27" y2="460.6" stroke="#111" stroke-width="1.0"/>
<line x1="191.05" y1="457.6" x2="191.05" y2="460.6" stroke="#111" stroke-width="1.0"/>
<line x1="195.15" y1="457.6" x2="195.15" y2="460.6" stroke="#111" stroke-width="1.0"/>
<line x1="198.33" y1="457.6" x2="198.33" y2="460.6" stroke="#111" stroke-width="1.0"/>
<line x1="200.92" y1="457.6" x2="200.92" y2="460.6" stroke="#111" stroke-width="1.0"/>
<line x1="203.12" y1="457.6" x2="203.12" y2="460.6" stroke="#111" stroke-width="1.0"/>
<line x1="205.02" y1="457.6" x2="205.02" y2="460.6" stroke="#111" stroke-width="1.0"/>
<line x1="206.7" y1="457.6" x2="206.7" y2="460.6" stroke="#111" stroke-width="1.0"/>
<line x1="208.2" y1="457.6" x2="208.2" y2="462.5" stroke="#111" stroke-width="1.4"/>
<line x1="218.07" y1="457.6" x2="218.07" y2="460.6" stroke="#111" stroke-width="1.0"/>
<line x1="223.85" y1="457.6" x2="223.85" y2="460.6" stroke="#111" stroke-width="1.0"/>
<line x1="227.95" y1="457.6" x2="227.95" y2="460.6" stroke="#111" stroke-width="1.0"/>
<line x1="231.13" y1="457.6" x2="231.13" y2="460.6" stroke="#111" stroke-width="1.0"/>
<line x1="233.72" y1="457.6" x2="233.72" y2="460.6" stroke="#111" stroke-width="1.0"/>
<line x1="235.92" y1="457.6" x2="235.92" y2="460.6" stroke="#111" stroke-width="1.0"/>
<line x1="237.82" y1="457.6" x2="237.82" y2="460.6" stroke="#111" stroke-width="1.0"/>
<line x1="239.5" y1="457.6" x2="239.5" y2="460.6" stroke="#111" stroke-width="1.0"/>
<line x1="241" y1="457.6" x2="241" y2="462.5" stroke="#111" stroke-width="1.4"/>
<text x="17.1" y="478.3" font-size="9.7" text-anchor="middle">10<tspan font-size="6.8" dy="-4.2">2</tspan></text>
<text x="49.5" y="478.3" font-size="9.7" text-anchor="middle">10<tspan font-size="6.8" dy="-4.2">3</tspan></text>
<text x="81.9" y="478.3" font-size="9.7" text-anchor="middle">10<tspan font-size="6.8" dy="-4.2">4</tspan></text>
<text x="114.3" y="478.3" font-size="9.7" text-anchor="middle">10<tspan font-size="6.8" dy="-4.2">5</tspan></text>
<text x="145.3" y="478.3" font-size="9.7" text-anchor="middle">10<tspan font-size="6.8" dy="-4.2">2</tspan></text>
<text x="178" y="478.3" font-size="9.7" text-anchor="middle">10<tspan font-size="6.8" dy="-4.2">3</tspan></text>
<text x="209.9" y="478.3" font-size="9.7" text-anchor="middle">10<tspan font-size="6.8" dy="-4.2">4</tspan></text>
<text x="241.9" y="478.3" font-size="9.7" text-anchor="middle">10<tspan font-size="6.8" dy="-4.2">5</tspan></text>
<text x="106.6" y="495" font-size="11.1">FITC-H</text>
<text x="268" y="191" font-size="14.5" font-weight="bold" stroke="#000" stroke-width="0.2">d</text>
<text x="322.0" y="196.3" font-size="9.4"><tspan font-style="italic">M.smegmatis</tspan> mc<tspan font-size="6.3" dy="-3.8">2</tspan><tspan dy="3.8">-155</tspan></text>
<line x1="310.4" y1="205.9" x2="310.4" y2="302.65" stroke="#111" stroke-width="1.1"/>
<line x1="307.2" y1="206.4" x2="310.4" y2="206.4" stroke="#111" stroke-width="1.0"/>
<line x1="308.6" y1="211.38" x2="310.4" y2="211.38" stroke="#111" stroke-width="1.0"/>
<text x="303" y="209" font-size="9" text-anchor="end">10<tspan font-size="6.3" dx="0.6" dy="-4.6">0</tspan></text>
<line x1="307.2" y1="225.55" x2="310.4" y2="225.55" stroke="#111" stroke-width="1.0"/>
<line x1="308.6" y1="230.53" x2="310.4" y2="230.53" stroke="#111" stroke-width="1.0"/>
<text x="303" y="228.15" font-size="9" text-anchor="end">10<tspan font-size="6.3" dx="0.6" dy="-4.6">−1</tspan></text>
<line x1="307.2" y1="244.7" x2="310.4" y2="244.7" stroke="#111" stroke-width="1.0"/>
<line x1="308.6" y1="249.68" x2="310.4" y2="249.68" stroke="#111" stroke-width="1.0"/>
<text x="303" y="247.3" font-size="9" text-anchor="end">10<tspan font-size="6.3" dx="0.6" dy="-4.6">−2</tspan></text>
<line x1="307.2" y1="263.85" x2="310.4" y2="263.85" stroke="#111" stroke-width="1.0"/>
<line x1="308.6" y1="268.83" x2="310.4" y2="268.83" stroke="#111" stroke-width="1.0"/>
<text x="303" y="266.45" font-size="9" text-anchor="end">10<tspan font-size="6.3" dx="0.6" dy="-4.6">−3</tspan></text>
<line x1="307.2" y1="283" x2="310.4" y2="283" stroke="#111" stroke-width="1.0"/>
<line x1="308.6" y1="287.98" x2="310.4" y2="287.98" stroke="#111" stroke-width="1.0"/>
<text x="303" y="285.6" font-size="9" text-anchor="end">10<tspan font-size="6.3" dx="0.6" dy="-4.6">−4</tspan></text>
<line x1="307.2" y1="302.15" x2="310.4" y2="302.15" stroke="#111" stroke-width="1.0"/>
<text x="303" y="304.75" font-size="9" text-anchor="end">10<tspan font-size="6.3" dx="0.6" dy="-4.6">−5</tspan></text>
<line x1="307.2" y1="302.2" x2="427.8" y2="302.2" stroke="#111" stroke-width="1.1"/>
<line x1="323.1" y1="302.2" x2="323.1" y2="305" stroke="#111" stroke-width="1.0"/>
<text x="323.1" y="317" font-size="10" text-anchor="middle">10</text>
<line x1="341.5" y1="302.2" x2="341.5" y2="305" stroke="#111" stroke-width="1.0"/>
<text x="341.5" y="317" font-size="10" text-anchor="middle">20</text>
<line x1="359.9" y1="302.2" x2="359.9" y2="305" stroke="#111" stroke-width="1.0"/>
<text x="359.9" y="317" font-size="10" text-anchor="middle">25</text>
<line x1="378.3" y1="302.2" x2="378.3" y2="305" stroke="#111" stroke-width="1.0"/>
<text x="378.3" y="317" font-size="10" text-anchor="middle">30</text>
<line x1="396.8" y1="302.2" x2="396.8" y2="305" stroke="#111" stroke-width="1.0"/>
<text x="396.8" y="317" font-size="10" text-anchor="middle">40</text>
<line x1="415.3" y1="302.2" x2="415.3" y2="305" stroke="#111" stroke-width="1.0"/>
<text x="415.3" y="317" font-size="10" text-anchor="middle">50</text>
<text x="369.4" y="333.2" font-size="9.4" text-anchor="middle">Rifampicin [µg/mL]</text>
<text x="276.7" y="255.3" font-size="9.45" text-anchor="middle" transform="rotate(-90 276.7 255.3)">Fraction survival</text>
<path d="M321.9,245.4 L325.2,250.2 L318.6,250.2 Z" fill="#bbb" stroke="#111" stroke-width="1.5" stroke-linejoin="miter"/>
<text x="314.7" y="263.8" font-size="9.5">MIC<tspan font-size="7" dx="0.3" dy="3.0">90</tspan></text>
<circle cx="319.7" cy="217.9" r="2.3" fill="none" stroke="#111" stroke-width="0.8"/>
<circle cx="322.8" cy="217" r="2.3" fill="none" stroke="#111" stroke-width="0.8"/>
<circle cx="325.9" cy="217.3" r="2.3" fill="none" stroke="#111" stroke-width="0.8"/>
<circle cx="318.7" cy="225.3" r="2.3" fill="none" stroke="#111" stroke-width="0.8"/>
<circle cx="321.6" cy="226.6" r="2.3" fill="none" stroke="#111" stroke-width="0.8"/>
<circle cx="324.7" cy="226.6" r="2.3" fill="none" stroke="#111" stroke-width="0.8"/>
<circle cx="319.7" cy="220.8" r="2.3" fill="none" stroke="#111" stroke-width="0.8"/>
<circle cx="325.9" cy="221" r="2.3" fill="none" stroke="#111" stroke-width="0.8"/>
<line x1="316.3" y1="220.4" x2="329.9" y2="220.4" stroke="#111" stroke-width="1.1"/>
<line x1="323.1" y1="216" x2="323.1" y2="224.7" stroke="#111" stroke-width="1.0"/>
<line x1="319.3" y1="216" x2="326.9" y2="216" stroke="#111" stroke-width="1.0"/>
<line x1="319.3" y1="224.7" x2="326.9" y2="224.7" stroke="#111" stroke-width="1.0"/>
<circle cx="337.7" cy="226.6" r="2.3" fill="none" stroke="#111" stroke-width="0.8"/>
<circle cx="344.5" cy="225.3" r="2.3" fill="none" stroke="#111" stroke-width="0.8"/>
<circle cx="338.3" cy="230.9" r="2.3" fill="none" stroke="#111" stroke-width="0.8"/>
<circle cx="345.7" cy="232.2" r="2.3" fill="none" stroke="#111" stroke-width="0.8"/>
<circle cx="338.9" cy="237.1" r="2.3" fill="none" stroke="#111" stroke-width="0.8"/>
<circle cx="344.5" cy="238.3" r="2.3" fill="none" stroke="#111" stroke-width="0.8"/>
<circle cx="340.8" cy="242.7" r="2.3" fill="none" stroke="#111" stroke-width="0.8"/>
<circle cx="342.4" cy="229.5" r="2.3" fill="none" stroke="#111" stroke-width="0.8"/>
<line x1="334.7" y1="230.9" x2="348.3" y2="230.9" stroke="#111" stroke-width="1.1"/>
<line x1="341.5" y1="226.6" x2="341.5" y2="242" stroke="#111" stroke-width="1.0"/>
<line x1="337.7" y1="226.6" x2="345.3" y2="226.6" stroke="#111" stroke-width="1.0"/>
<line x1="337.7" y1="242" x2="345.3" y2="242" stroke="#111" stroke-width="1.0"/>
<circle cx="355.6" cy="230.9" r="2.3" fill="none" stroke="#111" stroke-width="0.8"/>
<circle cx="363.7" cy="230.9" r="2.3" fill="none" stroke="#111" stroke-width="0.8"/>
<circle cx="355.6" cy="237.7" r="2.3" fill="none" stroke="#111" stroke-width="0.8"/>
<circle cx="359.3" cy="235.9" r="2.3" fill="none" stroke="#111" stroke-width="0.8"/>
<circle cx="363.1" cy="239" r="2.3" fill="none" stroke="#111" stroke-width="0.8"/>
<circle cx="356.9" cy="242.1" r="2.3" fill="none" stroke="#111" stroke-width="0.8"/>
<circle cx="363.1" cy="242.1" r="2.3" fill="none" stroke="#111" stroke-width="0.8"/>
<circle cx="360" cy="244.5" r="2.3" fill="none" stroke="#111" stroke-width="0.8"/>
<line x1="353.1" y1="237.7" x2="366.7" y2="237.7" stroke="#111" stroke-width="1.1"/>
<line x1="359.9" y1="232" x2="359.9" y2="247" stroke="#111" stroke-width="1.0"/>
<line x1="356.1" y1="232" x2="363.7" y2="232" stroke="#111" stroke-width="1.0"/>
<line x1="356.1" y1="247" x2="363.7" y2="247" stroke="#111" stroke-width="1.0"/>
<circle cx="376.1" cy="240.5" r="2.3" fill="none" stroke="#111" stroke-width="0.8"/>
<circle cx="381.1" cy="239.9" r="2.3" fill="none" stroke="#111" stroke-width="0.8"/>
<circle cx="375.5" cy="246.7" r="2.3" fill="none" stroke="#111" stroke-width="0.8"/>
<circle cx="381.1" cy="247.3" r="2.3" fill="none" stroke="#111" stroke-width="0.8"/>
<circle cx="378.3" cy="251.3" r="2.3" fill="none" stroke="#111" stroke-width="0.8"/>
<circle cx="378.6" cy="243.6" r="2.3" fill="none" stroke="#111" stroke-width="0.8"/>
<line x1="371.8" y1="243.6" x2="384.8" y2="243.6" stroke="#111" stroke-width="1.1"/>
<line x1="378.3" y1="239.9" x2="378.3" y2="247.9" stroke="#111" stroke-width="1.0"/>
<line x1="374.5" y1="239.9" x2="382.1" y2="239.9" stroke="#111" stroke-width="1.0"/>
<line x1="374.5" y1="247.9" x2="382.1" y2="247.9" stroke="#111" stroke-width="1.0"/>
<circle cx="396.8" cy="248.3" r="2.3" fill="none" stroke="#111" stroke-width="0.8"/>
<circle cx="393.7" cy="254.7" r="2.3" fill="none" stroke="#111" stroke-width="0.8"/>
<circle cx="399.9" cy="256.6" r="2.3" fill="none" stroke="#111" stroke-width="0.8"/>
<circle cx="394.1" cy="268.1" r="2.3" fill="none" stroke="#111" stroke-width="0.8"/>
<circle cx="399.4" cy="268.3" r="2.3" fill="none" stroke="#111" stroke-width="0.8"/>
<circle cx="396.8" cy="270.2" r="2.3" fill="none" stroke="#111" stroke-width="0.8"/>
<line x1="390.3" y1="257.4" x2="403.3" y2="257.4" stroke="#111" stroke-width="1.1"/>
<line x1="396.8" y1="251.3" x2="396.8" y2="257.4" stroke="#111" stroke-width="1.0"/>
<line x1="393" y1="251.3" x2="400.6" y2="251.3" stroke="#111" stroke-width="1.0"/>
<line x1="393" y1="257.4" x2="400.6" y2="257.4" stroke="#111" stroke-width="1.0"/>
<circle cx="415.4" cy="270.2" r="2.3" fill="none" stroke="#111" stroke-width="0.8"/>
<circle cx="411.4" cy="272.7" r="2.3" fill="none" stroke="#111" stroke-width="0.8"/>
<circle cx="419.4" cy="272.7" r="2.3" fill="none" stroke="#111" stroke-width="0.8"/>
<circle cx="412" cy="282" r="2.3" fill="none" stroke="#111" stroke-width="0.8"/>
<circle cx="418.2" cy="286.3" r="2.3" fill="none" stroke="#111" stroke-width="0.8"/>
<circle cx="413.9" cy="285.7" r="2.3" fill="none" stroke="#111" stroke-width="0.8"/>
<circle cx="415.4" cy="295.6" r="2.3" fill="none" stroke="#111" stroke-width="0.8"/>
<circle cx="415.4" cy="277" r="2.3" fill="none" stroke="#111" stroke-width="0.8"/>
<line x1="408.9" y1="277.6" x2="421.9" y2="277.6" stroke="#111" stroke-width="1.1"/>
<line x1="415.4" y1="270.2" x2="415.4" y2="288.2" stroke="#111" stroke-width="1.0"/>
<line x1="411.6" y1="270.2" x2="419.2" y2="270.2" stroke="#111" stroke-width="1.0"/>
<line x1="411.6" y1="288.2" x2="419.2" y2="288.2" stroke="#111" stroke-width="1.0"/>
<text x="446.2" y="190.7" font-size="14.5" font-weight="bold" stroke="#000" stroke-width="0.2">e</text>
<text x="508.4" y="196.1" font-size="9.4"><tspan font-style="italic">M. tuberculosis</tspan> H37Rv</text>
<line x1="498" y1="207" x2="498" y2="302.4" stroke="#111" stroke-width="1.1"/>
<line x1="494.8" y1="207.5" x2="498" y2="207.5" stroke="#111" stroke-width="1.0"/>
<line x1="496.2" y1="212.41" x2="498" y2="212.41" stroke="#111" stroke-width="1.0"/>
<text x="491.2" y="210.4" font-size="9" text-anchor="end">10<tspan font-size="6.3" dx="0.6" dy="-4.6">0</tspan></text>
<line x1="494.8" y1="226.38" x2="498" y2="226.38" stroke="#111" stroke-width="1.0"/>
<line x1="496.2" y1="231.29" x2="498" y2="231.29" stroke="#111" stroke-width="1.0"/>
<text x="491.2" y="229.28" font-size="9" text-anchor="end">10<tspan font-size="6.3" dx="0.6" dy="-4.6">−1</tspan></text>
<line x1="494.8" y1="245.26" x2="498" y2="245.26" stroke="#111" stroke-width="1.0"/>
<line x1="496.2" y1="250.17" x2="498" y2="250.17" stroke="#111" stroke-width="1.0"/>
<text x="491.2" y="248.16" font-size="9" text-anchor="end">10<tspan font-size="6.3" dx="0.6" dy="-4.6">−2</tspan></text>
<line x1="494.8" y1="264.14" x2="498" y2="264.14" stroke="#111" stroke-width="1.0"/>
<line x1="496.2" y1="269.05" x2="498" y2="269.05" stroke="#111" stroke-width="1.0"/>
<text x="491.2" y="267.04" font-size="9" text-anchor="end">10<tspan font-size="6.3" dx="0.6" dy="-4.6">−3</tspan></text>
<line x1="494.8" y1="283.02" x2="498" y2="283.02" stroke="#111" stroke-width="1.0"/>
<line x1="496.2" y1="287.93" x2="498" y2="287.93" stroke="#111" stroke-width="1.0"/>
<text x="491.2" y="285.92" font-size="9" text-anchor="end">10<tspan font-size="6.3" dx="0.6" dy="-4.6">−4</tspan></text>
<line x1="494.8" y1="301.9" x2="498" y2="301.9" stroke="#111" stroke-width="1.0"/>
<text x="491.2" y="304.8" font-size="9" text-anchor="end">10<tspan font-size="6.3" dx="0.6" dy="-4.6">−5</tspan></text>
<line x1="494.8" y1="302" x2="614.1" y2="302" stroke="#111" stroke-width="1.1"/>
<line x1="515.6" y1="302" x2="515.6" y2="304.8" stroke="#111" stroke-width="1.0"/>
<text x="515.6" y="317.3" font-size="10" text-anchor="middle">0.02</text>
<line x1="542.5" y1="302" x2="542.5" y2="304.8" stroke="#111" stroke-width="1.0"/>
<text x="542.5" y="317.3" font-size="10" text-anchor="middle">0.05</text>
<line x1="569.4" y1="302" x2="569.4" y2="304.8" stroke="#111" stroke-width="1.0"/>
<text x="569.4" y="317.3" font-size="10" text-anchor="middle">0.1</text>
<line x1="596.3" y1="302" x2="596.3" y2="304.8" stroke="#111" stroke-width="1.0"/>
<text x="596.3" y="317.3" font-size="10" text-anchor="middle">0.2</text>
<text x="556.4" y="334.3" font-size="9.4" text-anchor="middle">Rifampicin [µg/mL]</text>
<text x="463.9" y="255.9" font-size="9.45" text-anchor="middle" transform="rotate(-90 463.9 255.9)">Fraction survival</text>
<path d="M514.75,261.9 L518.0,266.5 L511.5,266.5 Z" fill="#bbb" stroke="#111" stroke-width="1.5" stroke-linejoin="miter"/>
<text x="508.7" y="279.1" font-size="9.3">MIC<tspan font-size="7" dx="0.3" dy="3.7">90</tspan></text>
<circle cx="510.4" cy="224.4" r="2.3" fill="none" stroke="#111" stroke-width="0.8"/>
<circle cx="515.4" cy="228.5" r="2.3" fill="none" stroke="#111" stroke-width="0.8"/>
<circle cx="518.5" cy="227.9" r="2.3" fill="none" stroke="#111" stroke-width="0.8"/>
<circle cx="521.6" cy="226.6" r="2.3" fill="none" stroke="#111" stroke-width="0.8"/>
<circle cx="512" cy="235.9" r="2.3" fill="none" stroke="#111" stroke-width="0.8"/>
<circle cx="519.5" cy="240" r="2.3" fill="none" stroke="#111" stroke-width="0.8"/>
<circle cx="515.6" cy="253.2" r="2.3" fill="none" stroke="#111" stroke-width="0.8"/>
<line x1="506.8" y1="231" x2="524.4" y2="231" stroke="#111" stroke-width="1.1"/>
<line x1="515.6" y1="226.4" x2="515.6" y2="245.2" stroke="#111" stroke-width="1.0"/>
<line x1="511.8" y1="226.4" x2="519.4" y2="226.4" stroke="#111" stroke-width="1.0"/>
<line x1="511.8" y1="245.2" x2="519.4" y2="245.2" stroke="#111" stroke-width="1.0"/>
<circle cx="542.6" cy="248.3" r="2.3" fill="none" stroke="#111" stroke-width="0.8"/>
<circle cx="536.8" cy="256.3" r="2.3" fill="none" stroke="#111" stroke-width="0.8"/>
<circle cx="540.8" cy="257" r="2.3" fill="none" stroke="#111" stroke-width="0.8"/>
<circle cx="544.6" cy="258" r="2.3" fill="none" stroke="#111" stroke-width="0.8"/>
<circle cx="547.7" cy="256.7" r="2.3" fill="none" stroke="#111" stroke-width="0.8"/>
<circle cx="542.6" cy="260" r="2.3" fill="none" stroke="#111" stroke-width="0.8"/>
<line x1="534.1" y1="255.7" x2="551.1" y2="255.7" stroke="#111" stroke-width="1.1"/>
<line x1="542.6" y1="251.1" x2="542.6" y2="263.8" stroke="#111" stroke-width="1.0"/>
<line x1="538.8" y1="251.1" x2="546.4" y2="251.1" stroke="#111" stroke-width="1.0"/>
<line x1="538.8" y1="263.8" x2="546.4" y2="263.8" stroke="#111" stroke-width="1.0"/>
<circle cx="574.7" cy="267.5" r="2.3" fill="none" stroke="#111" stroke-width="0.8"/>
<circle cx="563.5" cy="270.3" r="2.3" fill="none" stroke="#111" stroke-width="0.8"/>
<circle cx="567.2" cy="271.6" r="2.3" fill="none" stroke="#111" stroke-width="0.8"/>
<circle cx="563.5" cy="276.2" r="2.3" fill="none" stroke="#111" stroke-width="0.8"/>
<circle cx="574.7" cy="279.9" r="2.3" fill="none" stroke="#111" stroke-width="0.8"/>
<circle cx="569.3" cy="280.9" r="2.3" fill="none" stroke="#111" stroke-width="0.8"/>
<line x1="560.5" y1="273.2" x2="578.1" y2="273.2" stroke="#111" stroke-width="1.1"/>
<line x1="569.3" y1="269.7" x2="569.3" y2="280.2" stroke="#111" stroke-width="1.0"/>
<line x1="565.5" y1="269.7" x2="573.1" y2="269.7" stroke="#111" stroke-width="1.0"/>
<line x1="565.5" y1="280.2" x2="573.1" y2="280.2" stroke="#111" stroke-width="1.0"/>
<circle cx="592.6" cy="293.5" r="2.3" fill="none" stroke="#111" stroke-width="0.8"/>
<circle cx="600.7" cy="293.5" r="2.3" fill="none" stroke="#111" stroke-width="0.8"/>
<circle cx="591.4" cy="296.3" r="2.3" fill="none" stroke="#111" stroke-width="0.8"/>
<circle cx="595.1" cy="298.2" r="2.3" fill="none" stroke="#111" stroke-width="0.8"/>
<circle cx="598.2" cy="296.3" r="2.3" fill="none" stroke="#111" stroke-width="0.8"/>
<line x1="587.7" y1="295.7" x2="604.9" y2="295.7" stroke="#111" stroke-width="1.1"/>
<line x1="596.3" y1="294" x2="596.3" y2="297.4" stroke="#111" stroke-width="1.0"/>
<line x1="592.5" y1="294" x2="600.1" y2="294" stroke="#111" stroke-width="1.0"/>
<line x1="592.5" y1="297.4" x2="600.1" y2="297.4" stroke="#111" stroke-width="1.0"/>
<text x="268" y="355.9" font-size="14.5" font-weight="bold" stroke="#000" stroke-width="0.2">f</text>
<line x1="336.2" y1="366.1" x2="336.2" y2="465.11" stroke="#111" stroke-width="1.1"/>
<line x1="333" y1="366.6" x2="336.2" y2="366.6" stroke="#111" stroke-width="1.0"/>
<line x1="334.4" y1="375.09" x2="336.2" y2="375.09" stroke="#111" stroke-width="1.0"/>
<text x="328.4" y="370.2" font-size="9" text-anchor="end">10<tspan font-size="6.3" dx="0.6" dy="-4.6">−1</tspan></text>
<line x1="333" y1="399.27" x2="336.2" y2="399.27" stroke="#111" stroke-width="1.0"/>
<line x1="334.4" y1="407.76" x2="336.2" y2="407.76" stroke="#111" stroke-width="1.0"/>
<text x="328.4" y="402.87" font-size="9" text-anchor="end">10<tspan font-size="6.3" dx="0.6" dy="-4.6">−2</tspan></text>
<line x1="333" y1="431.94" x2="336.2" y2="431.94" stroke="#111" stroke-width="1.0"/>
<line x1="334.4" y1="440.43" x2="336.2" y2="440.43" stroke="#111" stroke-width="1.0"/>
<text x="328.4" y="435.54" font-size="9" text-anchor="end">10<tspan font-size="6.3" dx="0.6" dy="-4.6">−3</tspan></text>
<line x1="333" y1="464.61" x2="336.2" y2="464.61" stroke="#111" stroke-width="1.0"/>
<text x="328.4" y="468.21" font-size="9" text-anchor="end">10<tspan font-size="6.3" dx="0.6" dy="-4.6">−4</tspan></text>
<line x1="333" y1="464.6" x2="402.7" y2="464.6" stroke="#111" stroke-width="1.1"/>
<path d="M355.5,406.2 L355.5,365.5 L383.5,365.5 L383.5,375.9" fill="none" stroke="#111" stroke-width="1.0"/>
<text x="369" y="362.6" font-size="9.5" text-anchor="middle">*</text>
<circle cx="355.3" cy="418.8" r="2.1" fill="none" stroke="#111" stroke-width="0.8"/>
<circle cx="361.3" cy="425.6" r="2.1" fill="none" stroke="#111" stroke-width="0.8"/>
<circle cx="349.7" cy="430.3" r="2.1" fill="none" stroke="#111" stroke-width="0.8"/>
<circle cx="355.3" cy="432.1" r="2.1" fill="none" stroke="#111" stroke-width="0.8"/>
<circle cx="359.1" cy="435.8" r="2.1" fill="none" stroke="#111" stroke-width="0.8"/>
<circle cx="351.9" cy="442.8" r="2.1" fill="none" stroke="#111" stroke-width="0.8"/>
<line x1="346.3" y1="428.7" x2="364.9" y2="428.7" stroke="#111" stroke-width="1.1"/>
<line x1="355.6" y1="422.4" x2="355.6" y2="441.2" stroke="#111" stroke-width="1.0"/>
<line x1="351.2" y1="422.4" x2="360" y2="422.4" stroke="#111" stroke-width="1.0"/>
<line x1="351.2" y1="441.2" x2="360" y2="441.2" stroke="#111" stroke-width="1.0"/>
<rect x="381.2" y="383.6" width="4.4" height="4.4" fill="none" stroke="#111" stroke-width="1.0"/>
<rect x="381.2" y="404.3" width="4.4" height="4.4" fill="none" stroke="#111" stroke-width="1.0"/>
<rect x="377.8" y="412" width="4.4" height="4.4" fill="none" stroke="#111" stroke-width="1.0"/>
<rect x="385.5" y="410.3" width="4.4" height="4.4" fill="none" stroke="#111" stroke-width="1.0"/>
<rect x="379.2" y="417.3" width="4.4" height="4.4" fill="none" stroke="#111" stroke-width="1.0"/>
<rect x="383.8" y="415.9" width="4.4" height="4.4" fill="none" stroke="#111" stroke-width="1.0"/>
<line x1="374.6" y1="403.3" x2="392.8" y2="403.3" stroke="#111" stroke-width="1.1"/>
<line x1="383.7" y1="392.1" x2="383.7" y2="413" stroke="#111" stroke-width="1.0"/>
<line x1="378.9" y1="392.1" x2="388.5" y2="392.1" stroke="#111" stroke-width="1.0"/>
<line x1="378.9" y1="413" x2="388.5" y2="413" stroke="#111" stroke-width="1.0"/>
<text x="288.9" y="415.45" font-size="9.5" text-anchor="middle" transform="rotate(-90 288.9 415.45)">Fraction survival on</text>
<text x="300" y="416.6" font-size="9.5" text-anchor="middle" transform="rotate(-90 300 416.6)">rifampicin&#160; 0.1 µg/mL</text>
<circle cx="321.1" cy="480.3" r="2.2" fill="none" stroke="#111" stroke-width="1.2"/>
<text x="328.2" y="484.2" font-size="9.4">Isolated from 7H10</text>
<rect x="318.8" y="490.7" width="4.6" height="4.6" fill="none" stroke="#111" stroke-width="1.2"/>
<text x="328.2" y="496.4" font-size="9.4">Isolated from 7H10 +</text>
<text x="328.2" y="507.2" font-size="9.4">0.1 µg/mL rifampicin</text>
<defs><pattern id="hatch" patternUnits="userSpaceOnUse" width="2.85" height="2.85" patternTransform="rotate(45)"><rect width="2.85" height="2.85" fill="#fff"/><rect x="0" y="0" width="1.6" height="2.85" fill="#000"/></pattern></defs>
<text x="446.2" y="358.2" font-size="14.5" font-weight="bold" stroke="#000" stroke-width="0.2">g</text>
<line x1="496.5" y1="365.9" x2="496.5" y2="464.19" stroke="#111" stroke-width="1.1"/>
<line x1="493.3" y1="366.4" x2="496.5" y2="366.4" stroke="#111" stroke-width="1.0"/>
<line x1="494.7" y1="374.83" x2="496.5" y2="374.83" stroke="#111" stroke-width="1.0"/>
<text x="489.2" y="369.8" font-size="9" text-anchor="end">10<tspan font-size="6.3" dx="0.6" dy="-4.6">2</tspan></text>
<line x1="493.3" y1="398.83" x2="496.5" y2="398.83" stroke="#111" stroke-width="1.0"/>
<line x1="494.7" y1="407.26" x2="496.5" y2="407.26" stroke="#111" stroke-width="1.0"/>
<text x="489.2" y="402.23" font-size="9" text-anchor="end">10<tspan font-size="6.3" dx="0.6" dy="-4.6">1</tspan></text>
<line x1="493.3" y1="431.26" x2="496.5" y2="431.26" stroke="#111" stroke-width="1.0"/>
<line x1="494.7" y1="439.69" x2="496.5" y2="439.69" stroke="#111" stroke-width="1.0"/>
<text x="489.2" y="434.66" font-size="9" text-anchor="end">10<tspan font-size="6.3" dx="0.6" dy="-4.6">0</tspan></text>
<line x1="493.3" y1="463.69" x2="496.5" y2="463.69" stroke="#111" stroke-width="1.0"/>
<text x="489.2" y="467.09" font-size="9" text-anchor="end">10<tspan font-size="6.3" dx="0.6" dy="-4.6">−1</tspan></text>
<line x1="493.3" y1="464" x2="642.4" y2="464" stroke="#111" stroke-width="1.1"/>
<rect x="501.3" y="431.2" width="9" height="32.8" rx="0" fill="#fff" stroke="#000" stroke-width="1.25"/>
<rect x="515.6" y="400.2" width="8.7" height="63.8" rx="0" fill="url(#hatch)" stroke="#000" stroke-width="1.25"/>
<rect x="538.7" y="431.2" width="9" height="32.8" rx="0" fill="#fff" stroke="#000" stroke-width="1.25"/>
<rect x="553" y="424.3" width="8.7" height="39.7" rx="0" fill="url(#hatch)" stroke="#000" stroke-width="1.25"/>
<rect x="577" y="431.1" width="8.4" height="32.9" rx="0" fill="#fff" stroke="#000" stroke-width="1.25"/>
<rect x="591.2" y="430.3" width="8.2" height="33.7" rx="0" fill="url(#hatch)" stroke="#000" stroke-width="1.25"/>
<rect x="613.9" y="431.1" width="8.6" height="32.9" rx="0" fill="#fff" stroke="#000" stroke-width="1.25"/>
<rect x="628.6" y="429.1" width="8.4" height="34.9" rx="0" fill="url(#hatch)" stroke="#000" stroke-width="1.25"/>
<line x1="512.9" y1="464" x2="512.9" y2="466.8" stroke="#111" stroke-width="1.0"/>
<text x="512.9" y="479.4" font-size="10" text-anchor="middle">0</text>
<line x1="550.2" y1="464" x2="550.2" y2="466.8" stroke="#111" stroke-width="1.0"/>
<text x="550.2" y="479.4" font-size="10" text-anchor="middle">8</text>
<line x1="588.2" y1="464" x2="588.2" y2="466.8" stroke="#111" stroke-width="1.0"/>
<text x="588.2" y="479.4" font-size="10" text-anchor="middle">16</text>
<line x1="625.5" y1="464" x2="625.5" y2="466.8" stroke="#111" stroke-width="1.0"/>
<text x="625.5" y="479.4" font-size="10" text-anchor="middle">24</text>
<text x="570.1" y="493.8" font-size="9.4" text-anchor="middle">Hours in non-selective media</text>
<text x="465" y="413" font-size="9.5" text-anchor="middle" transform="rotate(-90 465 413)">Normalized fold difference</text>
<rect x="526.2" y="352.9" width="10.4" height="7.3" rx="0" fill="#fff" stroke="#000" stroke-width="1.25"/>
<rect x="526.2" y="366.6" width="10.4" height="7.4" rx="0" fill="url(#hatch)" stroke="#000" stroke-width="1.25"/>
<text x="541.4" y="359.9" font-size="9.4">Unexposed</text>
<text x="541.4" y="373.6" font-size="9.4">Pre-exposed</text>
<text x="517.3" y="399.4" font-size="10.5" text-anchor="middle">*</text>
<text x="522.5" y="399.4" font-size="10.5" text-anchor="middle">*</text>
<text x="557.5" y="425.3" font-size="10.0" text-anchor="middle">*</text>
<text x="596" y="422.8" font-size="10.5" text-anchor="middle">ns</text>
<text x="633.4" y="422.8" font-size="10.5" text-anchor="middle">ns</text>
<line x1="505.8" y1="427.2" x2="505.8" y2="436.3" stroke="#000" stroke-width="1.0"/>
<line x1="503" y1="427.2" x2="508.6" y2="427.2" stroke="#000" stroke-width="1.2"/>
<line x1="503" y1="436.3" x2="508.6" y2="436.3" stroke="#000" stroke-width="1.2"/>
<path d="M505.7,425 L507.6,427.4 L503.8,427.4 Z" fill="#000"/>
<circle cx="507.8" cy="432.4" r="1.35" fill="#000"/>
<circle cx="503.3" cy="435.2" r="1.35" fill="#000"/>
<line x1="516.2" y1="399" x2="523.6" y2="399" stroke="#000" stroke-width="1.6"/>
<circle cx="517.4" cy="399.6" r="1.35" fill="#000"/>
<circle cx="521.4" cy="400.2" r="1.35" fill="#000"/>
<circle cx="523" cy="399.4" r="1.1" fill="#000"/>
<line x1="540" y1="430.3" x2="547.4" y2="430.3" stroke="#000" stroke-width="1.4"/>
<circle cx="540.6" cy="429" r="1.35" fill="#000"/>
<circle cx="543.2" cy="430.6" r="1.35" fill="#000"/>
<circle cx="545.4" cy="430.6" r="1.35" fill="#000"/>
<circle cx="547" cy="431.4" r="1.1" fill="#000"/>
<line x1="553.4" y1="424" x2="561.8" y2="424" stroke="#000" stroke-width="1.4"/>
<circle cx="554.8" cy="422.9" r="1.35" fill="#000"/>
<circle cx="558.3" cy="424" r="1.35" fill="#000"/>
<circle cx="560.6" cy="424" r="1.35" fill="#000"/>
<line x1="581" y1="428.4" x2="581" y2="435.1" stroke="#000" stroke-width="1.0"/>
<line x1="578.2" y1="428.4" x2="583.8" y2="428.4" stroke="#000" stroke-width="1.2"/>
<line x1="578.2" y1="435.1" x2="583.8" y2="435.1" stroke="#000" stroke-width="1.2"/>
<path d="M581,426 L582.9,428.4 L579.1,428.4 Z" fill="#000"/>
<circle cx="583.3" cy="431.1" r="1.35" fill="#000"/>
<circle cx="578.9" cy="435.1" r="1.35" fill="#000"/>
<line x1="595.1" y1="428.4" x2="595.1" y2="433" stroke="#000" stroke-width="1.0"/>
<line x1="592.3" y1="428.4" x2="597.9" y2="428.4" stroke="#000" stroke-width="1.2"/>
<line x1="592.3" y1="433" x2="597.9" y2="433" stroke="#000" stroke-width="1.2"/>
<path d="M595.1,425.8 L597,428.2 L593.2,428.2 Z" fill="#000"/>
<circle cx="592.8" cy="432.8" r="1.35" fill="#000"/>
<circle cx="596.8" cy="431.2" r="1.1" fill="#000"/>
<line x1="614.6" y1="430.6" x2="622.6" y2="430.6" stroke="#000" stroke-width="1.4"/>
<circle cx="615.8" cy="429.8" r="1.35" fill="#000"/>
<circle cx="618.6" cy="433.3" r="1.35" fill="#000"/>
<circle cx="620.9" cy="430.9" r="1.35" fill="#000"/>
<circle cx="632.8" cy="426.9" r="1.5" fill="#000"/>
<line x1="632.8" y1="427" x2="632.8" y2="429.3" stroke="#000" stroke-width="1.0"/>
<circle cx="630" cy="431.1" r="1.35" fill="#000"/>
<circle cx="631.6" cy="430.2" r="1.1" fill="#000"/>
<text x="251" y="531.2" font-size="14.5" font-weight="bold" stroke="#000" stroke-width="0.2">h</text>
<line x1="306.2" y1="532.8" x2="306.2" y2="654.61" stroke="#111" stroke-width="1.1"/>
<line x1="303" y1="533.3" x2="306.2" y2="533.3" stroke="#111" stroke-width="1.0"/>
<line x1="304.4" y1="543.77" x2="306.2" y2="543.77" stroke="#111" stroke-width="1.0"/>
<text x="297.9" y="536.6" font-size="9" text-anchor="end">10<tspan font-size="6.3" dx="0.6" dy="-4.6">0</tspan></text>
<line x1="303" y1="573.57" x2="306.2" y2="573.57" stroke="#111" stroke-width="1.0"/>
<line x1="304.4" y1="584.04" x2="306.2" y2="584.04" stroke="#111" stroke-width="1.0"/>
<text x="297.9" y="576.87" font-size="9" text-anchor="end">10<tspan font-size="6.3" dx="0.6" dy="-4.6">−1</tspan></text>
<line x1="303" y1="613.84" x2="306.2" y2="613.84" stroke="#111" stroke-width="1.0"/>
<line x1="304.4" y1="624.31" x2="306.2" y2="624.31" stroke="#111" stroke-width="1.0"/>
<text x="297.9" y="617.14" font-size="9" text-anchor="end">10<tspan font-size="6.3" dx="0.6" dy="-4.6">−2</tspan></text>
<line x1="303" y1="654.11" x2="306.2" y2="654.11" stroke="#111" stroke-width="1.0"/>
<text x="297.9" y="657.41" font-size="9" text-anchor="end">10<tspan font-size="6.3" dx="0.6" dy="-4.6">−3</tspan></text>
<line x1="303" y1="654.1" x2="400.2" y2="654.1" stroke="#111" stroke-width="1.1"/>
<rect x="315.7" y="644.9" width="18.5" height="9.2" rx="0" fill="#fff" stroke="#111" stroke-width="1.1"/>
<rect x="344.1" y="591.1" width="18.1" height="63" rx="0" fill="#fff" stroke="#111" stroke-width="1.1"/>
<rect x="371.9" y="560.8" width="18.4" height="93.3" rx="0" fill="#fff" stroke="#111" stroke-width="1.1"/>
<line x1="325" y1="654.1" x2="325" y2="657" stroke="#111" stroke-width="1.0"/>
<text x="325" y="669.6" font-size="10" text-anchor="middle">0</text>
<line x1="353.1" y1="654.1" x2="353.1" y2="657" stroke="#111" stroke-width="1.0"/>
<text x="353.1" y="669.6" font-size="10" text-anchor="middle">1</text>
<line x1="381.1" y1="654.1" x2="381.1" y2="657" stroke="#111" stroke-width="1.0"/>
<text x="381.1" y="669.6" font-size="10" text-anchor="middle">3</text>
<text x="353.1" y="684.6" font-size="9.4" text-anchor="middle">Weeks after treatment</text>
<text x="257.8" y="593.8" font-size="9.5" text-anchor="middle" transform="rotate(-90 257.8 593.8)">Fraction survival on</text>
<text x="268.9" y="595.25" font-size="9.5" text-anchor="middle" transform="rotate(-90 268.9 595.25)">rifampicin&#160; 0.1 µg/mL</text>
<line x1="325" y1="640" x2="325" y2="644.9" stroke="#111" stroke-width="1.2"/>
<line x1="320.2" y1="640" x2="329.8" y2="640" stroke="#111" stroke-width="1.7"/>
<line x1="353.1" y1="589.3" x2="353.1" y2="591.1" stroke="#111" stroke-width="1.2"/>
<line x1="348.3" y1="589.3" x2="357.9" y2="589.3" stroke="#111" stroke-width="1.7"/>
<line x1="381.1" y1="557.5" x2="381.1" y2="560.8" stroke="#111" stroke-width="1.2"/>
<line x1="376.3" y1="557.5" x2="385.9" y2="557.5" stroke="#111" stroke-width="1.7"/>
<circle cx="325" cy="650.6" r="1.7" fill="#111"/>
<circle cx="350" cy="592.6" r="1.7" fill="#111"/>
<circle cx="378" cy="563.8" r="1.7" fill="#111"/>
<path d="M323.4,639.8 L327.8,639.8 L325.6,643.2 Z" fill="#111"/>
<path d="M353.8,588.9 L358.2,588.9 L356,592.3 Z" fill="#111"/>
<path d="M380.8,557.4 L385.2,557.4 L383,560.8 Z" fill="#111"/>
</svg>
</body></html>
